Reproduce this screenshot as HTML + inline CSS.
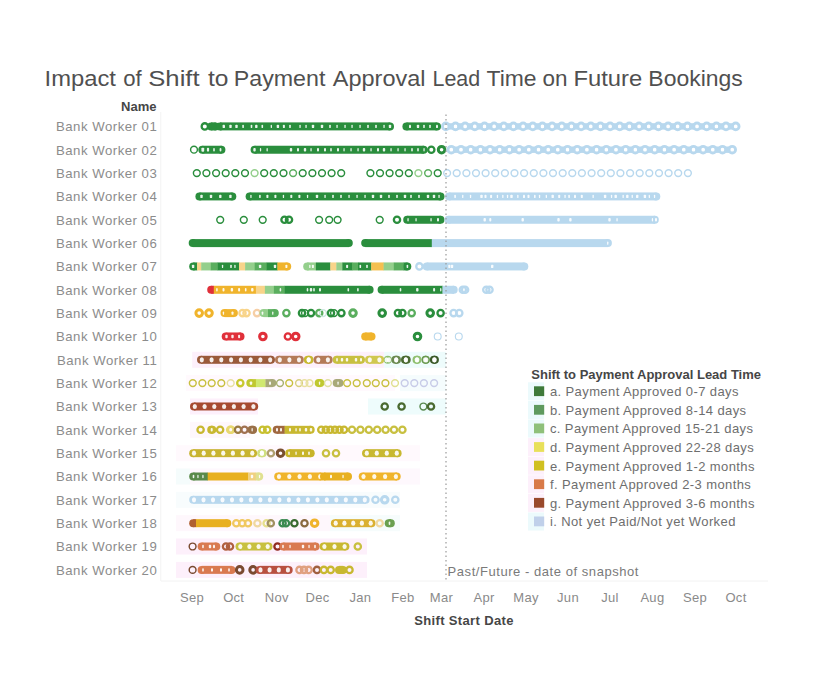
<!DOCTYPE html>
<html><head><meta charset="utf-8"><style>
html,body{margin:0;padding:0;background:#fff;}
svg{display:block;font-family:"Liberation Sans",sans-serif;}
.t{font-size:22.2px;fill:#505050;}
.nm text{font-size:13.2px;fill:#8c8c8c;letter-spacing:0.5px;}
.mo text{font-size:13px;fill:#8a8a8a;letter-spacing:0.3px;}
.lg{font-size:13px;fill:#6e6e6e;letter-spacing:0.4px;}
.hd{font-size:13px;font-weight:bold;fill:#464646;}
</style></head><body>
<svg width="832" height="685" viewBox="0 0 832 685">
<text class="t" transform="translate(44.56 86.3) scale(1.0711 1)">Impact</text><text class="t" transform="translate(123.30 86.3) scale(0.9980 1)">of</text><text class="t" transform="translate(148.24 86.3) scale(1.1565 1)">Shift</text><text class="t" transform="translate(207.90 86.3) scale(1.1066 1)">to</text><text class="t" transform="translate(233.75 86.3) scale(1.0464 1)">Payment</text><text class="t" transform="translate(332.80 86.3) scale(1.0584 1)">Approval</text><text class="t" transform="translate(432.53 86.3) scale(0.9656 1)">Lead</text><text class="t" transform="translate(486.50 86.3) scale(1.0324 1)">Time</text><text class="t" transform="translate(542.50 86.3) scale(1.0112 1)">on</text><text class="t" transform="translate(573.43 86.3) scale(1.0719 1)">Future</text><text class="t" transform="translate(648.37 86.3) scale(1.0346 1)">Bookings</text>
<text x="156.5" y="111" class="hd" text-anchor="end">Name</text>
<line x1="160.8" y1="112" x2="160.8" y2="581" stroke="#f3f3f3" stroke-width="1"/>
<line x1="161" y1="581" x2="768" y2="581" stroke="#f2f2f2" stroke-width="1"/>
<g class="nm">
<text x="157.3" y="131.3" text-anchor="end">Bank Worker 01</text>
<text x="157.3" y="154.6" text-anchor="end">Bank Worker 02</text>
<text x="157.3" y="178.0" text-anchor="end">Bank Worker 03</text>
<text x="157.3" y="201.3" text-anchor="end">Bank Worker 04</text>
<text x="157.3" y="224.7" text-anchor="end">Bank Worker 05</text>
<text x="157.3" y="248.0" text-anchor="end">Bank Worker 06</text>
<text x="157.3" y="271.3" text-anchor="end">Bank Worker 07</text>
<text x="157.3" y="294.7" text-anchor="end">Bank Worker 08</text>
<text x="157.3" y="318.0" text-anchor="end">Bank Worker 09</text>
<text x="157.3" y="341.4" text-anchor="end">Bank Worker 10</text>
<text x="157.3" y="364.7" text-anchor="end">Bank Worker 11</text>
<text x="157.3" y="388.0" text-anchor="end">Bank Worker 12</text>
<text x="157.3" y="411.4" text-anchor="end">Bank Worker 13</text>
<text x="157.3" y="434.7" text-anchor="end">Bank Worker 14</text>
<text x="157.3" y="458.1" text-anchor="end">Bank Worker 15</text>
<text x="157.3" y="481.4" text-anchor="end">Bank Worker 16</text>
<text x="157.3" y="504.7" text-anchor="end">Bank Worker 17</text>
<text x="157.3" y="528.1" text-anchor="end">Bank Worker 18</text>
<text x="157.3" y="551.4" text-anchor="end">Bank Worker 19</text>
<text x="157.3" y="574.8" text-anchor="end">Bank Worker 20</text>
</g>
<g fill="none">
<rect x="192.2" y="351.8" width="192.0" height="16.0" fill="#fdf0fb"/>
<rect x="384.2" y="351.8" width="61.8" height="16.0" fill="#eefcfc"/>
<rect x="186.0" y="375.1" width="209.0" height="16.0" fill="#fff9fd"/>
<rect x="400.0" y="375.1" width="46.0" height="16.0" fill="#f5fcfd"/>
<rect x="190.0" y="421.8" width="60.0" height="16.0" fill="#fef7fc"/>
<rect x="176.0" y="445.2" width="244.0" height="16.0" fill="#fff9fd"/>
<rect x="176.0" y="468.5" width="14.0" height="16.0" fill="#f5fcfc"/>
<rect x="190.0" y="468.5" width="230.0" height="16.0" fill="#fef8fd"/>
<rect x="176.0" y="491.8" width="224.0" height="16.0" fill="#f8fcfd"/>
<rect x="176.0" y="515.2" width="154.0" height="16.0" fill="#fef7fc"/>
<rect x="330.0" y="515.2" width="70.0" height="16.0" fill="#f6fcfc"/>
<rect x="190.0" y="398.5" width="68.0" height="16.0" fill="#fdf0fb"/>
<rect x="368.0" y="398.5" width="78.0" height="16.0" fill="#eefcfc"/>
<rect x="176.0" y="538.5" width="191.0" height="16.0" fill="#fdf0fb"/>
<rect x="176.0" y="561.9" width="191.0" height="16.0" fill="#fdf0fb"/>
<circle cx="204.8" cy="126.4" r="3.15" stroke="#2a8e3d" stroke-width="2.30" fill="none"/>
<circle cx="211.0" cy="126.4" r="4.00" fill="#2a8e3d"/>
<circle cx="215.5" cy="126.4" r="4.00" fill="#2a8e3d"/>
<rect x="211.00" y="122.40" width="4.80" height="8.00" fill="#2a8e3d"/>
<circle cx="220.0" cy="126.4" r="4.00" fill="#2a8e3d"/>
<circle cx="390.0" cy="126.4" r="4.00" fill="#2a8e3d"/>
<rect x="220.00" y="122.40" width="170.30" height="8.00" fill="#2a8e3d"/>
<rect x="222.6" y="124.7" width="2.4" height="3.4" rx="0.9" fill="#fff" fill-opacity="0.9"/>
<rect x="229.3" y="124.7" width="2.4" height="3.4" rx="0.9" fill="#fff" fill-opacity="0.9"/>
<rect x="235.3" y="124.7" width="2.4" height="3.4" rx="0.9" fill="#fff" fill-opacity="0.9"/>
<rect x="242.3" y="124.7" width="1.6" height="3.4" rx="0.9" fill="#fff" fill-opacity="0.9"/>
<rect x="250.7" y="124.7" width="1.6" height="3.4" rx="0.9" fill="#fff" fill-opacity="0.9"/>
<rect x="255.1" y="124.7" width="2.4" height="3.4" rx="0.9" fill="#fff" fill-opacity="0.9"/>
<rect x="261.5" y="124.7" width="1.6" height="3.4" rx="0.9" fill="#fff" fill-opacity="0.9"/>
<rect x="270.7" y="124.7" width="1.3" height="3.4" rx="0.9" fill="#fff" fill-opacity="0.9"/>
<rect x="276.7" y="124.7" width="2.4" height="3.4" rx="0.9" fill="#fff" fill-opacity="0.9"/>
<rect x="282.9" y="124.7" width="2.0" height="3.4" rx="0.9" fill="#fff" fill-opacity="0.9"/>
<rect x="289.2" y="124.7" width="1.6" height="3.4" rx="0.9" fill="#fff" fill-opacity="0.9"/>
<rect x="299.4" y="124.7" width="1.3" height="3.4" rx="0.9" fill="#fff" fill-opacity="0.9"/>
<rect x="305.4" y="124.7" width="1.3" height="3.4" rx="0.9" fill="#fff" fill-opacity="0.9"/>
<rect x="311.8" y="124.7" width="2.4" height="3.4" rx="0.9" fill="#fff" fill-opacity="0.9"/>
<rect x="320.8" y="124.7" width="2.4" height="3.4" rx="0.9" fill="#fff" fill-opacity="0.9"/>
<rect x="329.2" y="124.7" width="1.6" height="3.4" rx="0.9" fill="#fff" fill-opacity="0.9"/>
<rect x="336.4" y="124.7" width="1.3" height="3.4" rx="0.9" fill="#fff" fill-opacity="0.9"/>
<rect x="344.4" y="124.7" width="1.3" height="3.4" rx="0.9" fill="#fff" fill-opacity="0.9"/>
<rect x="351.4" y="124.7" width="1.3" height="3.4" rx="0.9" fill="#fff" fill-opacity="0.9"/>
<rect x="359.4" y="124.7" width="1.3" height="3.4" rx="0.9" fill="#fff" fill-opacity="0.9"/>
<rect x="367.2" y="124.7" width="1.6" height="3.4" rx="0.9" fill="#fff" fill-opacity="0.9"/>
<rect x="375.2" y="124.7" width="1.6" height="3.4" rx="0.9" fill="#fff" fill-opacity="0.9"/>
<rect x="383.4" y="124.7" width="1.3" height="3.4" rx="0.9" fill="#fff" fill-opacity="0.9"/>
<rect x="388.8" y="124.7" width="2.4" height="3.4" rx="0.9" fill="#fff" fill-opacity="0.9"/>
<circle cx="406.4" cy="126.4" r="4.00" fill="#2a8e3d"/>
<circle cx="437.0" cy="126.4" r="4.00" fill="#2a8e3d"/>
<rect x="406.40" y="122.40" width="30.90" height="8.00" fill="#2a8e3d"/>
<rect x="409.0" y="124.7" width="2.0" height="3.4" rx="0.9" fill="#fff" fill-opacity="0.9"/>
<rect x="416.8" y="124.7" width="2.4" height="3.4" rx="0.9" fill="#fff" fill-opacity="0.9"/>
<rect x="423.2" y="124.7" width="1.6" height="3.4" rx="0.9" fill="#fff" fill-opacity="0.9"/>
<rect x="429.2" y="124.7" width="1.6" height="3.4" rx="0.9" fill="#fff" fill-opacity="0.9"/>
<rect x="436.0" y="124.7" width="2.0" height="3.4" rx="0.9" fill="#fff" fill-opacity="0.9"/>
<rect x="447.8" y="123.2" width="5.7" height="6.4" fill="#b8d8ee"/>
<rect x="457.5" y="123.2" width="5.7" height="6.4" fill="#b8d8ee"/>
<rect x="467.1" y="123.2" width="5.7" height="6.4" fill="#b8d8ee"/>
<rect x="476.8" y="123.2" width="5.7" height="6.4" fill="#b8d8ee"/>
<rect x="486.5" y="123.2" width="5.7" height="6.4" fill="#b8d8ee"/>
<rect x="496.1" y="123.2" width="5.7" height="6.4" fill="#b8d8ee"/>
<rect x="505.8" y="123.2" width="5.7" height="6.4" fill="#b8d8ee"/>
<rect x="515.4" y="123.2" width="5.7" height="6.4" fill="#b8d8ee"/>
<rect x="525.1" y="123.2" width="5.7" height="6.4" fill="#b8d8ee"/>
<rect x="534.8" y="123.2" width="5.7" height="6.4" fill="#b8d8ee"/>
<rect x="544.4" y="123.2" width="5.7" height="6.4" fill="#b8d8ee"/>
<rect x="554.1" y="123.2" width="5.7" height="6.4" fill="#b8d8ee"/>
<rect x="563.8" y="123.2" width="5.7" height="6.4" fill="#b8d8ee"/>
<rect x="573.4" y="123.2" width="5.7" height="6.4" fill="#b8d8ee"/>
<rect x="583.1" y="123.2" width="5.7" height="6.4" fill="#b8d8ee"/>
<rect x="592.8" y="123.2" width="5.7" height="6.4" fill="#b8d8ee"/>
<rect x="602.4" y="123.2" width="5.7" height="6.4" fill="#b8d8ee"/>
<rect x="612.1" y="123.2" width="5.7" height="6.4" fill="#b8d8ee"/>
<rect x="621.7" y="123.2" width="5.7" height="6.4" fill="#b8d8ee"/>
<rect x="631.4" y="123.2" width="5.7" height="6.4" fill="#b8d8ee"/>
<rect x="641.1" y="123.2" width="5.7" height="6.4" fill="#b8d8ee"/>
<rect x="650.7" y="123.2" width="5.7" height="6.4" fill="#b8d8ee"/>
<rect x="660.4" y="123.2" width="5.7" height="6.4" fill="#b8d8ee"/>
<rect x="670.1" y="123.2" width="5.7" height="6.4" fill="#b8d8ee"/>
<rect x="679.7" y="123.2" width="5.7" height="6.4" fill="#b8d8ee"/>
<rect x="689.4" y="123.2" width="5.7" height="6.4" fill="#b8d8ee"/>
<rect x="699.0" y="123.2" width="5.7" height="6.4" fill="#b8d8ee"/>
<rect x="708.7" y="123.2" width="5.7" height="6.4" fill="#b8d8ee"/>
<rect x="718.4" y="123.2" width="5.7" height="6.4" fill="#b8d8ee"/>
<rect x="728.0" y="123.2" width="5.7" height="6.4" fill="#b8d8ee"/>
<circle cx="445.8" cy="126.4" r="3.35" stroke="#b8d8ee" stroke-width="2.9" fill="none"/>
<circle cx="455.5" cy="126.4" r="3.35" stroke="#b8d8ee" stroke-width="2.9" fill="none"/>
<circle cx="465.1" cy="126.4" r="3.35" stroke="#b8d8ee" stroke-width="2.9" fill="none"/>
<circle cx="474.8" cy="126.4" r="3.35" stroke="#b8d8ee" stroke-width="2.9" fill="none"/>
<circle cx="484.5" cy="126.4" r="3.35" stroke="#b8d8ee" stroke-width="2.9" fill="none"/>
<circle cx="494.1" cy="126.4" r="3.35" stroke="#b8d8ee" stroke-width="2.9" fill="none"/>
<circle cx="503.8" cy="126.4" r="3.35" stroke="#b8d8ee" stroke-width="2.9" fill="none"/>
<circle cx="513.4" cy="126.4" r="3.35" stroke="#b8d8ee" stroke-width="2.9" fill="none"/>
<circle cx="523.1" cy="126.4" r="3.35" stroke="#b8d8ee" stroke-width="2.9" fill="none"/>
<circle cx="532.8" cy="126.4" r="3.35" stroke="#b8d8ee" stroke-width="2.9" fill="none"/>
<circle cx="542.4" cy="126.4" r="3.35" stroke="#b8d8ee" stroke-width="2.9" fill="none"/>
<circle cx="552.1" cy="126.4" r="3.35" stroke="#b8d8ee" stroke-width="2.9" fill="none"/>
<circle cx="561.8" cy="126.4" r="3.35" stroke="#b8d8ee" stroke-width="2.9" fill="none"/>
<circle cx="571.4" cy="126.4" r="3.35" stroke="#b8d8ee" stroke-width="2.9" fill="none"/>
<circle cx="581.1" cy="126.4" r="3.35" stroke="#b8d8ee" stroke-width="2.9" fill="none"/>
<circle cx="590.8" cy="126.4" r="3.35" stroke="#b8d8ee" stroke-width="2.9" fill="none"/>
<circle cx="600.4" cy="126.4" r="3.35" stroke="#b8d8ee" stroke-width="2.9" fill="none"/>
<circle cx="610.1" cy="126.4" r="3.35" stroke="#b8d8ee" stroke-width="2.9" fill="none"/>
<circle cx="619.7" cy="126.4" r="3.35" stroke="#b8d8ee" stroke-width="2.9" fill="none"/>
<circle cx="629.4" cy="126.4" r="3.35" stroke="#b8d8ee" stroke-width="2.9" fill="none"/>
<circle cx="639.1" cy="126.4" r="3.35" stroke="#b8d8ee" stroke-width="2.9" fill="none"/>
<circle cx="648.7" cy="126.4" r="3.35" stroke="#b8d8ee" stroke-width="2.9" fill="none"/>
<circle cx="658.4" cy="126.4" r="3.35" stroke="#b8d8ee" stroke-width="2.9" fill="none"/>
<circle cx="668.1" cy="126.4" r="3.35" stroke="#b8d8ee" stroke-width="2.9" fill="none"/>
<circle cx="677.7" cy="126.4" r="3.35" stroke="#b8d8ee" stroke-width="2.9" fill="none"/>
<circle cx="687.4" cy="126.4" r="3.35" stroke="#b8d8ee" stroke-width="2.9" fill="none"/>
<circle cx="697.0" cy="126.4" r="3.35" stroke="#b8d8ee" stroke-width="2.9" fill="none"/>
<circle cx="706.7" cy="126.4" r="3.35" stroke="#b8d8ee" stroke-width="2.9" fill="none"/>
<circle cx="716.4" cy="126.4" r="3.35" stroke="#b8d8ee" stroke-width="2.9" fill="none"/>
<circle cx="726.0" cy="126.4" r="3.35" stroke="#b8d8ee" stroke-width="2.9" fill="none"/>
<circle cx="735.7" cy="126.4" r="3.35" stroke="#b8d8ee" stroke-width="2.9" fill="none"/>
<circle cx="194.0" cy="149.7" r="3.40" stroke="#2a8e3d" stroke-width="1.45" fill="none"/>
<circle cx="202.3" cy="149.7" r="4.00" fill="#2a8e3d"/>
<circle cx="221.4" cy="149.7" r="4.00" fill="#2a8e3d"/>
<rect x="202.30" y="145.74" width="19.40" height="8.00" fill="#2a8e3d"/>
<rect x="201.4" y="147.7" width="2.8" height="4.0" rx="0.9" fill="#fff" fill-opacity="0.9"/>
<rect x="206.9" y="147.8" width="2.2" height="3.8" rx="0.9" fill="#fff" fill-opacity="0.9"/>
<rect x="213.2" y="148.0" width="1.6" height="3.4" rx="0.9" fill="#fff" fill-opacity="0.9"/>
<rect x="219.6" y="148.0" width="1.8" height="3.4" rx="0.9" fill="#fff" fill-opacity="0.9"/>
<circle cx="254.6" cy="149.7" r="4.00" fill="#2a8e3d"/>
<circle cx="423.6" cy="149.7" r="4.00" fill="#2a8e3d"/>
<rect x="254.60" y="145.74" width="169.30" height="8.00" fill="#2a8e3d"/>
<rect x="253.3" y="148.0" width="2.4" height="3.4" rx="0.9" fill="#fff" fill-opacity="0.9"/>
<rect x="259.9" y="148.0" width="1.3" height="3.4" rx="0.9" fill="#fff" fill-opacity="0.9"/>
<rect x="266.5" y="148.0" width="1.3" height="3.4" rx="0.9" fill="#fff" fill-opacity="0.9"/>
<rect x="289.8" y="148.0" width="2.4" height="3.4" rx="0.9" fill="#fff" fill-opacity="0.9"/>
<rect x="297.0" y="148.0" width="2.0" height="3.4" rx="0.9" fill="#fff" fill-opacity="0.9"/>
<rect x="303.8" y="148.0" width="2.4" height="3.4" rx="0.9" fill="#fff" fill-opacity="0.9"/>
<rect x="310.4" y="148.0" width="1.3" height="3.4" rx="0.9" fill="#fff" fill-opacity="0.9"/>
<rect x="317.0" y="148.0" width="2.0" height="3.4" rx="0.9" fill="#fff" fill-opacity="0.9"/>
<rect x="324.0" y="148.0" width="2.0" height="3.4" rx="0.9" fill="#fff" fill-opacity="0.9"/>
<rect x="330.2" y="148.0" width="1.6" height="3.4" rx="0.9" fill="#fff" fill-opacity="0.9"/>
<rect x="337.0" y="148.0" width="2.0" height="3.4" rx="0.9" fill="#fff" fill-opacity="0.9"/>
<rect x="343.4" y="148.0" width="1.3" height="3.4" rx="0.9" fill="#fff" fill-opacity="0.9"/>
<rect x="350.4" y="148.0" width="1.3" height="3.4" rx="0.9" fill="#fff" fill-opacity="0.9"/>
<rect x="357.4" y="148.0" width="1.3" height="3.4" rx="0.9" fill="#fff" fill-opacity="0.9"/>
<rect x="362.8" y="148.0" width="2.4" height="3.4" rx="0.9" fill="#fff" fill-opacity="0.9"/>
<rect x="370.4" y="148.0" width="1.3" height="3.4" rx="0.9" fill="#fff" fill-opacity="0.9"/>
<rect x="377.0" y="148.0" width="2.0" height="3.4" rx="0.9" fill="#fff" fill-opacity="0.9"/>
<rect x="382.8" y="148.0" width="2.4" height="3.4" rx="0.9" fill="#fff" fill-opacity="0.9"/>
<rect x="390.4" y="148.0" width="1.3" height="3.4" rx="0.9" fill="#fff" fill-opacity="0.9"/>
<rect x="397.4" y="148.0" width="1.3" height="3.4" rx="0.9" fill="#fff" fill-opacity="0.9"/>
<rect x="404.4" y="148.0" width="1.3" height="3.4" rx="0.9" fill="#fff" fill-opacity="0.9"/>
<rect x="411.2" y="148.0" width="1.6" height="3.4" rx="0.9" fill="#fff" fill-opacity="0.9"/>
<rect x="417.2" y="148.0" width="1.6" height="3.4" rx="0.9" fill="#fff" fill-opacity="0.9"/>
<rect x="423.4" y="148.0" width="1.3" height="3.4" rx="0.9" fill="#fff" fill-opacity="0.9"/>
<circle cx="431.3" cy="149.7" r="3.15" stroke="#2a8e3d" stroke-width="2.30" fill="none"/>
<circle cx="441.6" cy="149.7" r="3.30" stroke="#2a8e3d" stroke-width="3.00" fill="none"/>
<rect x="453.3" y="146.5" width="5.7" height="6.4" fill="#b8d8ee"/>
<rect x="463.0" y="146.5" width="5.7" height="6.4" fill="#b8d8ee"/>
<rect x="472.7" y="146.5" width="5.7" height="6.4" fill="#b8d8ee"/>
<rect x="482.4" y="146.5" width="5.7" height="6.4" fill="#b8d8ee"/>
<rect x="492.0" y="146.5" width="5.7" height="6.4" fill="#b8d8ee"/>
<rect x="501.7" y="146.5" width="5.7" height="6.4" fill="#b8d8ee"/>
<rect x="511.4" y="146.5" width="5.7" height="6.4" fill="#b8d8ee"/>
<rect x="521.1" y="146.5" width="5.7" height="6.4" fill="#b8d8ee"/>
<rect x="530.8" y="146.5" width="5.7" height="6.4" fill="#b8d8ee"/>
<rect x="540.5" y="146.5" width="5.7" height="6.4" fill="#b8d8ee"/>
<rect x="550.2" y="146.5" width="5.7" height="6.4" fill="#b8d8ee"/>
<rect x="559.8" y="146.5" width="5.7" height="6.4" fill="#b8d8ee"/>
<rect x="569.5" y="146.5" width="5.7" height="6.4" fill="#b8d8ee"/>
<rect x="579.2" y="146.5" width="5.7" height="6.4" fill="#b8d8ee"/>
<rect x="588.9" y="146.5" width="5.7" height="6.4" fill="#b8d8ee"/>
<rect x="598.6" y="146.5" width="5.7" height="6.4" fill="#b8d8ee"/>
<rect x="608.3" y="146.5" width="5.7" height="6.4" fill="#b8d8ee"/>
<rect x="618.0" y="146.5" width="5.7" height="6.4" fill="#b8d8ee"/>
<rect x="627.7" y="146.5" width="5.7" height="6.4" fill="#b8d8ee"/>
<rect x="637.3" y="146.5" width="5.7" height="6.4" fill="#b8d8ee"/>
<rect x="647.0" y="146.5" width="5.7" height="6.4" fill="#b8d8ee"/>
<rect x="656.7" y="146.5" width="5.7" height="6.4" fill="#b8d8ee"/>
<rect x="666.4" y="146.5" width="5.7" height="6.4" fill="#b8d8ee"/>
<rect x="676.1" y="146.5" width="5.7" height="6.4" fill="#b8d8ee"/>
<rect x="685.8" y="146.5" width="5.7" height="6.4" fill="#b8d8ee"/>
<rect x="695.5" y="146.5" width="5.7" height="6.4" fill="#b8d8ee"/>
<rect x="705.1" y="146.5" width="5.7" height="6.4" fill="#b8d8ee"/>
<rect x="714.8" y="146.5" width="5.7" height="6.4" fill="#b8d8ee"/>
<rect x="724.5" y="146.5" width="5.7" height="6.4" fill="#b8d8ee"/>
<circle cx="451.3" cy="149.7" r="3.35" stroke="#b8d8ee" stroke-width="2.9" fill="none"/>
<circle cx="461.0" cy="149.7" r="3.35" stroke="#b8d8ee" stroke-width="2.9" fill="none"/>
<circle cx="470.7" cy="149.7" r="3.35" stroke="#b8d8ee" stroke-width="2.9" fill="none"/>
<circle cx="480.4" cy="149.7" r="3.35" stroke="#b8d8ee" stroke-width="2.9" fill="none"/>
<circle cx="490.0" cy="149.7" r="3.35" stroke="#b8d8ee" stroke-width="2.9" fill="none"/>
<circle cx="499.7" cy="149.7" r="3.35" stroke="#b8d8ee" stroke-width="2.9" fill="none"/>
<circle cx="509.4" cy="149.7" r="3.35" stroke="#b8d8ee" stroke-width="2.9" fill="none"/>
<circle cx="519.1" cy="149.7" r="3.35" stroke="#b8d8ee" stroke-width="2.9" fill="none"/>
<circle cx="528.8" cy="149.7" r="3.35" stroke="#b8d8ee" stroke-width="2.9" fill="none"/>
<circle cx="538.5" cy="149.7" r="3.35" stroke="#b8d8ee" stroke-width="2.9" fill="none"/>
<circle cx="548.2" cy="149.7" r="3.35" stroke="#b8d8ee" stroke-width="2.9" fill="none"/>
<circle cx="557.8" cy="149.7" r="3.35" stroke="#b8d8ee" stroke-width="2.9" fill="none"/>
<circle cx="567.5" cy="149.7" r="3.35" stroke="#b8d8ee" stroke-width="2.9" fill="none"/>
<circle cx="577.2" cy="149.7" r="3.35" stroke="#b8d8ee" stroke-width="2.9" fill="none"/>
<circle cx="586.9" cy="149.7" r="3.35" stroke="#b8d8ee" stroke-width="2.9" fill="none"/>
<circle cx="596.6" cy="149.7" r="3.35" stroke="#b8d8ee" stroke-width="2.9" fill="none"/>
<circle cx="606.3" cy="149.7" r="3.35" stroke="#b8d8ee" stroke-width="2.9" fill="none"/>
<circle cx="616.0" cy="149.7" r="3.35" stroke="#b8d8ee" stroke-width="2.9" fill="none"/>
<circle cx="625.7" cy="149.7" r="3.35" stroke="#b8d8ee" stroke-width="2.9" fill="none"/>
<circle cx="635.3" cy="149.7" r="3.35" stroke="#b8d8ee" stroke-width="2.9" fill="none"/>
<circle cx="645.0" cy="149.7" r="3.35" stroke="#b8d8ee" stroke-width="2.9" fill="none"/>
<circle cx="654.7" cy="149.7" r="3.35" stroke="#b8d8ee" stroke-width="2.9" fill="none"/>
<circle cx="664.4" cy="149.7" r="3.35" stroke="#b8d8ee" stroke-width="2.9" fill="none"/>
<circle cx="674.1" cy="149.7" r="3.35" stroke="#b8d8ee" stroke-width="2.9" fill="none"/>
<circle cx="683.8" cy="149.7" r="3.35" stroke="#b8d8ee" stroke-width="2.9" fill="none"/>
<circle cx="693.5" cy="149.7" r="3.35" stroke="#b8d8ee" stroke-width="2.9" fill="none"/>
<circle cx="703.1" cy="149.7" r="3.35" stroke="#b8d8ee" stroke-width="2.9" fill="none"/>
<circle cx="712.8" cy="149.7" r="3.35" stroke="#b8d8ee" stroke-width="2.9" fill="none"/>
<circle cx="722.5" cy="149.7" r="3.35" stroke="#b8d8ee" stroke-width="2.9" fill="none"/>
<circle cx="732.2" cy="149.7" r="3.35" stroke="#b8d8ee" stroke-width="2.9" fill="none"/>
<circle cx="196.8" cy="173.1" r="3.40" stroke="#2a8e3d" stroke-width="1.45" fill="none"/>
<circle cx="206.4" cy="173.1" r="3.40" stroke="#2a8e3d" stroke-width="1.45" fill="none"/>
<circle cx="216.1" cy="173.1" r="3.40" stroke="#2a8e3d" stroke-width="1.45" fill="none"/>
<circle cx="225.7" cy="173.1" r="3.40" stroke="#2a8e3d" stroke-width="1.45" fill="none"/>
<circle cx="235.3" cy="173.1" r="3.40" stroke="#2a8e3d" stroke-width="1.45" fill="none"/>
<circle cx="245.0" cy="173.1" r="3.40" stroke="#2a8e3d" stroke-width="1.45" fill="none"/>
<circle cx="254.6" cy="173.1" r="3.40" stroke="#94cf8c" stroke-width="1.45" fill="none"/>
<circle cx="264.2" cy="173.1" r="3.40" stroke="#2a8e3d" stroke-width="1.45" fill="none"/>
<circle cx="273.8" cy="173.1" r="3.40" stroke="#2a8e3d" stroke-width="1.45" fill="none"/>
<circle cx="283.5" cy="173.1" r="3.40" stroke="#2a8e3d" stroke-width="1.45" fill="none"/>
<circle cx="293.1" cy="173.1" r="3.40" stroke="#5aae5e" stroke-width="1.45" fill="none"/>
<circle cx="302.7" cy="173.1" r="3.40" stroke="#2a8e3d" stroke-width="1.45" fill="none"/>
<circle cx="312.4" cy="173.1" r="3.40" stroke="#2a8e3d" stroke-width="1.45" fill="none"/>
<circle cx="322.0" cy="173.1" r="3.40" stroke="#2a8e3d" stroke-width="1.45" fill="none"/>
<circle cx="331.6" cy="173.1" r="3.40" stroke="#2a8e3d" stroke-width="1.45" fill="none"/>
<circle cx="341.2" cy="173.1" r="3.40" stroke="#2a8e3d" stroke-width="1.45" fill="none"/>
<circle cx="370.4" cy="173.1" r="3.40" stroke="#2a8e3d" stroke-width="1.45" fill="none"/>
<circle cx="380.0" cy="173.1" r="3.40" stroke="#2a8e3d" stroke-width="1.45" fill="none"/>
<circle cx="389.6" cy="173.1" r="3.40" stroke="#2a8e3d" stroke-width="1.45" fill="none"/>
<circle cx="399.2" cy="173.1" r="3.40" stroke="#2a8e3d" stroke-width="1.45" fill="none"/>
<circle cx="408.8" cy="173.1" r="3.40" stroke="#2a8e3d" stroke-width="1.45" fill="none"/>
<circle cx="418.4" cy="173.1" r="3.40" stroke="#94cf8c" stroke-width="1.45" fill="none"/>
<circle cx="428.1" cy="173.1" r="3.40" stroke="#5aae5e" stroke-width="1.45" fill="none"/>
<circle cx="437.7" cy="173.1" r="3.40" stroke="#2a8e3d" stroke-width="1.45" fill="none"/>
<circle cx="447.1" cy="173.1" r="3.40" stroke="#b8d8ee" stroke-width="1.45" fill="none"/>
<circle cx="456.7" cy="173.1" r="3.40" stroke="#b8d8ee" stroke-width="1.45" fill="none"/>
<circle cx="466.4" cy="173.1" r="3.40" stroke="#b8d8ee" stroke-width="1.45" fill="none"/>
<circle cx="476.0" cy="173.1" r="3.40" stroke="#b8d8ee" stroke-width="1.45" fill="none"/>
<circle cx="485.6" cy="173.1" r="3.40" stroke="#b8d8ee" stroke-width="1.45" fill="none"/>
<circle cx="495.2" cy="173.1" r="3.40" stroke="#b8d8ee" stroke-width="1.45" fill="none"/>
<circle cx="504.9" cy="173.1" r="3.40" stroke="#b8d8ee" stroke-width="1.45" fill="none"/>
<circle cx="514.5" cy="173.1" r="3.40" stroke="#b8d8ee" stroke-width="1.45" fill="none"/>
<circle cx="524.1" cy="173.1" r="3.40" stroke="#b8d8ee" stroke-width="1.45" fill="none"/>
<circle cx="533.8" cy="173.1" r="3.40" stroke="#b8d8ee" stroke-width="1.45" fill="none"/>
<circle cx="543.4" cy="173.1" r="3.40" stroke="#b8d8ee" stroke-width="1.45" fill="none"/>
<circle cx="553.0" cy="173.1" r="3.40" stroke="#b8d8ee" stroke-width="1.45" fill="none"/>
<circle cx="562.7" cy="173.1" r="3.40" stroke="#b8d8ee" stroke-width="1.45" fill="none"/>
<circle cx="572.3" cy="173.1" r="3.40" stroke="#b8d8ee" stroke-width="1.45" fill="none"/>
<circle cx="581.9" cy="173.1" r="3.40" stroke="#b8d8ee" stroke-width="1.45" fill="none"/>
<circle cx="591.6" cy="173.1" r="3.40" stroke="#b8d8ee" stroke-width="1.45" fill="none"/>
<circle cx="601.2" cy="173.1" r="3.40" stroke="#b8d8ee" stroke-width="1.45" fill="none"/>
<circle cx="610.8" cy="173.1" r="3.40" stroke="#b8d8ee" stroke-width="1.45" fill="none"/>
<circle cx="620.4" cy="173.1" r="3.40" stroke="#b8d8ee" stroke-width="1.45" fill="none"/>
<circle cx="630.1" cy="173.1" r="3.40" stroke="#b8d8ee" stroke-width="1.45" fill="none"/>
<circle cx="639.7" cy="173.1" r="3.40" stroke="#b8d8ee" stroke-width="1.45" fill="none"/>
<circle cx="649.3" cy="173.1" r="3.40" stroke="#b8d8ee" stroke-width="1.45" fill="none"/>
<circle cx="659.0" cy="173.1" r="3.40" stroke="#b8d8ee" stroke-width="1.45" fill="none"/>
<circle cx="668.6" cy="173.1" r="3.40" stroke="#b8d8ee" stroke-width="1.45" fill="none"/>
<circle cx="678.2" cy="173.1" r="3.40" stroke="#b8d8ee" stroke-width="1.45" fill="none"/>
<circle cx="687.9" cy="173.1" r="3.40" stroke="#b8d8ee" stroke-width="1.45" fill="none"/>
<circle cx="199.4" cy="196.4" r="4.00" fill="#2a8e3d"/>
<circle cx="232.3" cy="196.4" r="4.00" fill="#2a8e3d"/>
<rect x="199.40" y="192.42" width="33.20" height="8.00" fill="#2a8e3d"/>
<rect x="200.3" y="194.7" width="2.4" height="3.4" rx="0.9" fill="#fff" fill-opacity="0.9"/>
<rect x="209.8" y="194.7" width="2.4" height="3.4" rx="0.9" fill="#fff" fill-opacity="0.9"/>
<rect x="219.1" y="194.7" width="2.4" height="3.4" rx="0.9" fill="#fff" fill-opacity="0.9"/>
<rect x="229.2" y="194.7" width="2.4" height="3.4" rx="0.9" fill="#fff" fill-opacity="0.9"/>
<circle cx="249.6" cy="196.4" r="4.00" fill="#2a8e3d"/>
<circle cx="440.5" cy="196.4" r="4.00" fill="#2a8e3d"/>
<rect x="249.60" y="192.42" width="191.20" height="8.00" fill="#2a8e3d"/>
<rect x="250.3" y="194.7" width="1.3" height="3.4" rx="0.9" fill="#fff" fill-opacity="0.9"/>
<rect x="259.1" y="194.7" width="1.6" height="3.4" rx="0.9" fill="#fff" fill-opacity="0.9"/>
<rect x="266.4" y="194.7" width="2.0" height="3.4" rx="0.9" fill="#fff" fill-opacity="0.9"/>
<rect x="274.4" y="194.7" width="2.0" height="3.4" rx="0.9" fill="#fff" fill-opacity="0.9"/>
<rect x="282.8" y="194.7" width="1.3" height="3.4" rx="0.9" fill="#fff" fill-opacity="0.9"/>
<rect x="290.3" y="194.7" width="2.0" height="3.4" rx="0.9" fill="#fff" fill-opacity="0.9"/>
<rect x="298.4" y="194.7" width="2.0" height="3.4" rx="0.9" fill="#fff" fill-opacity="0.9"/>
<rect x="306.9" y="194.7" width="1.3" height="3.4" rx="0.9" fill="#fff" fill-opacity="0.9"/>
<rect x="315.8" y="194.7" width="2.4" height="3.4" rx="0.9" fill="#fff" fill-opacity="0.9"/>
<rect x="324.4" y="194.7" width="1.3" height="3.4" rx="0.9" fill="#fff" fill-opacity="0.9"/>
<rect x="332.2" y="194.7" width="1.6" height="3.4" rx="0.9" fill="#fff" fill-opacity="0.9"/>
<rect x="340.2" y="194.7" width="1.6" height="3.4" rx="0.9" fill="#fff" fill-opacity="0.9"/>
<rect x="348.4" y="194.7" width="1.3" height="3.4" rx="0.9" fill="#fff" fill-opacity="0.9"/>
<rect x="356.4" y="194.7" width="1.3" height="3.4" rx="0.9" fill="#fff" fill-opacity="0.9"/>
<rect x="364.4" y="194.7" width="1.3" height="3.4" rx="0.9" fill="#fff" fill-opacity="0.9"/>
<rect x="371.8" y="194.7" width="2.4" height="3.4" rx="0.9" fill="#fff" fill-opacity="0.9"/>
<rect x="379.8" y="194.7" width="2.4" height="3.4" rx="0.9" fill="#fff" fill-opacity="0.9"/>
<rect x="388.2" y="194.7" width="1.6" height="3.4" rx="0.9" fill="#fff" fill-opacity="0.9"/>
<rect x="396.2" y="194.7" width="1.6" height="3.4" rx="0.9" fill="#fff" fill-opacity="0.9"/>
<rect x="403.8" y="194.7" width="2.4" height="3.4" rx="0.9" fill="#fff" fill-opacity="0.9"/>
<rect x="410.2" y="194.7" width="1.6" height="3.4" rx="0.9" fill="#fff" fill-opacity="0.9"/>
<rect x="418.2" y="194.7" width="1.6" height="3.4" rx="0.9" fill="#fff" fill-opacity="0.9"/>
<rect x="426.8" y="194.7" width="2.4" height="3.4" rx="0.9" fill="#fff" fill-opacity="0.9"/>
<rect x="432.8" y="194.7" width="2.4" height="3.4" rx="0.9" fill="#fff" fill-opacity="0.9"/>
<rect x="438.4" y="194.7" width="1.3" height="3.4" rx="0.9" fill="#fff" fill-opacity="0.9"/>
<circle cx="449.0" cy="196.4" r="4.00" fill="#b8d8ee"/>
<circle cx="656.3" cy="196.4" r="4.00" fill="#b8d8ee"/>
<rect x="449.00" y="192.42" width="207.60" height="8.00" fill="#b8d8ee"/>
<rect x="454.3" y="194.7" width="1.6" height="3.4" rx="0.9" fill="#fff" fill-opacity="0.9"/>
<rect x="462.1" y="194.7" width="1.3" height="3.4" rx="0.9" fill="#fff" fill-opacity="0.9"/>
<rect x="469.9" y="194.7" width="1.3" height="3.4" rx="0.9" fill="#fff" fill-opacity="0.9"/>
<rect x="480.3" y="194.7" width="2.4" height="3.4" rx="0.9" fill="#fff" fill-opacity="0.9"/>
<rect x="484.5" y="194.7" width="2.0" height="3.4" rx="0.9" fill="#fff" fill-opacity="0.9"/>
<rect x="490.1" y="194.7" width="2.0" height="3.4" rx="0.9" fill="#fff" fill-opacity="0.9"/>
<rect x="496.8" y="194.7" width="1.3" height="3.4" rx="0.9" fill="#fff" fill-opacity="0.9"/>
<rect x="502.2" y="194.7" width="1.3" height="3.4" rx="0.9" fill="#fff" fill-opacity="0.9"/>
<rect x="506.9" y="194.7" width="1.3" height="3.4" rx="0.9" fill="#fff" fill-opacity="0.9"/>
<rect x="510.3" y="194.7" width="2.4" height="3.4" rx="0.9" fill="#fff" fill-opacity="0.9"/>
<rect x="517.2" y="194.7" width="1.3" height="3.4" rx="0.9" fill="#fff" fill-opacity="0.9"/>
<rect x="523.0" y="194.7" width="2.0" height="3.4" rx="0.9" fill="#fff" fill-opacity="0.9"/>
<rect x="527.5" y="194.7" width="2.0" height="3.4" rx="0.9" fill="#fff" fill-opacity="0.9"/>
<rect x="534.0" y="194.7" width="1.6" height="3.4" rx="0.9" fill="#fff" fill-opacity="0.9"/>
<rect x="538.9" y="194.7" width="1.3" height="3.4" rx="0.9" fill="#fff" fill-opacity="0.9"/>
<rect x="545.7" y="194.7" width="1.3" height="3.4" rx="0.9" fill="#fff" fill-opacity="0.9"/>
<rect x="551.5" y="194.7" width="2.4" height="3.4" rx="0.9" fill="#fff" fill-opacity="0.9"/>
<rect x="558.2" y="194.7" width="2.0" height="3.4" rx="0.9" fill="#fff" fill-opacity="0.9"/>
<rect x="564.4" y="194.7" width="1.3" height="3.4" rx="0.9" fill="#fff" fill-opacity="0.9"/>
<rect x="568.3" y="194.7" width="1.6" height="3.4" rx="0.9" fill="#fff" fill-opacity="0.9"/>
<rect x="574.0" y="194.7" width="2.0" height="3.4" rx="0.9" fill="#fff" fill-opacity="0.9"/>
<rect x="580.8" y="194.7" width="2.0" height="3.4" rx="0.9" fill="#fff" fill-opacity="0.9"/>
<rect x="592.5" y="194.7" width="1.3" height="3.4" rx="0.9" fill="#fff" fill-opacity="0.9"/>
<rect x="603.9" y="194.7" width="2.4" height="3.4" rx="0.9" fill="#fff" fill-opacity="0.9"/>
<rect x="610.9" y="194.7" width="1.3" height="3.4" rx="0.9" fill="#fff" fill-opacity="0.9"/>
<rect x="614.5" y="194.7" width="2.4" height="3.4" rx="0.9" fill="#fff" fill-opacity="0.9"/>
<rect x="622.5" y="194.7" width="1.3" height="3.4" rx="0.9" fill="#fff" fill-opacity="0.9"/>
<rect x="626.1" y="194.7" width="2.4" height="3.4" rx="0.9" fill="#fff" fill-opacity="0.9"/>
<rect x="631.6" y="194.7" width="1.3" height="3.4" rx="0.9" fill="#fff" fill-opacity="0.9"/>
<rect x="636.0" y="194.7" width="2.4" height="3.4" rx="0.9" fill="#fff" fill-opacity="0.9"/>
<rect x="643.7" y="194.7" width="2.4" height="3.4" rx="0.9" fill="#fff" fill-opacity="0.9"/>
<rect x="648.7" y="194.7" width="1.3" height="3.4" rx="0.9" fill="#fff" fill-opacity="0.9"/>
<rect x="653.9" y="194.7" width="1.3" height="3.4" rx="0.9" fill="#fff" fill-opacity="0.9"/>
<circle cx="220.2" cy="219.8" r="3.40" stroke="#2a8e3d" stroke-width="1.45" fill="none"/>
<circle cx="243.8" cy="219.8" r="3.40" stroke="#2a8e3d" stroke-width="1.45" fill="none"/>
<circle cx="262.7" cy="219.8" r="3.40" stroke="#2a8e3d" stroke-width="1.45" fill="none"/>
<circle cx="284.5" cy="219.8" r="3.15" stroke="#2a8e3d" stroke-width="2.30" fill="none"/>
<circle cx="289.0" cy="219.8" r="3.15" stroke="#2a8e3d" stroke-width="2.30" fill="none"/>
<circle cx="319.1" cy="219.8" r="3.40" stroke="#2a8e3d" stroke-width="1.45" fill="none"/>
<circle cx="329.2" cy="219.8" r="3.40" stroke="#2a8e3d" stroke-width="1.45" fill="none"/>
<circle cx="337.6" cy="219.8" r="3.40" stroke="#2a8e3d" stroke-width="1.45" fill="none"/>
<circle cx="379.7" cy="219.8" r="3.40" stroke="#2a8e3d" stroke-width="1.45" fill="none"/>
<circle cx="397.0" cy="219.8" r="3.15" stroke="#2a8e3d" stroke-width="2.30" fill="none"/>
<circle cx="407.2" cy="219.8" r="4.00" fill="#2a8e3d"/>
<circle cx="440.5" cy="219.8" r="4.00" fill="#2a8e3d"/>
<rect x="407.20" y="215.76" width="33.60" height="8.00" fill="#2a8e3d"/>
<rect x="407.4" y="218.1" width="1.3" height="3.4" rx="0.9" fill="#fff" fill-opacity="0.9"/>
<rect x="415.4" y="218.1" width="1.3" height="3.4" rx="0.9" fill="#fff" fill-opacity="0.9"/>
<rect x="430.4" y="218.1" width="1.3" height="3.4" rx="0.9" fill="#fff" fill-opacity="0.9"/>
<rect x="437.0" y="218.1" width="2.0" height="3.4" rx="0.9" fill="#fff" fill-opacity="0.9"/>
<circle cx="448.5" cy="219.8" r="4.00" fill="#b8d8ee"/>
<circle cx="654.8" cy="219.8" r="4.00" fill="#b8d8ee"/>
<rect x="448.50" y="215.76" width="206.60" height="8.00" fill="#b8d8ee"/>
<rect x="483.5" y="218.1" width="2.4" height="3.4" rx="0.9" fill="#fff" fill-opacity="0.9"/>
<rect x="489.3" y="218.1" width="2.0" height="3.4" rx="0.9" fill="#fff" fill-opacity="0.9"/>
<rect x="521.5" y="218.1" width="2.4" height="3.4" rx="0.9" fill="#fff" fill-opacity="0.9"/>
<rect x="557.3" y="218.1" width="2.4" height="3.4" rx="0.9" fill="#fff" fill-opacity="0.9"/>
<rect x="569.2" y="218.1" width="2.4" height="3.4" rx="0.9" fill="#fff" fill-opacity="0.9"/>
<rect x="608.3" y="218.1" width="2.4" height="3.4" rx="0.9" fill="#fff" fill-opacity="0.9"/>
<rect x="616.4" y="218.1" width="1.3" height="3.4" rx="0.9" fill="#fff" fill-opacity="0.9"/>
<rect x="651.8" y="218.1" width="1.3" height="3.4" rx="0.9" fill="#fff" fill-opacity="0.9"/>
<rect x="655.0" y="218.1" width="2.0" height="3.4" rx="0.9" fill="#fff" fill-opacity="0.9"/>
<circle cx="192.7" cy="243.1" r="4.00" fill="#2a8e3d"/>
<circle cx="348.8" cy="243.1" r="4.00" fill="#2a8e3d"/>
<rect x="192.70" y="239.10" width="156.40" height="8.00" fill="#2a8e3d"/>
<circle cx="365.2" cy="243.1" r="4.00" fill="#2a8e3d"/>
<circle cx="607.9" cy="243.1" r="4.00" fill="#b8d8ee"/>
<rect x="365.20" y="239.10" width="66.90" height="8.00" fill="#2a8e3d"/>
<rect x="431.80" y="239.10" width="176.40" height="8.00" fill="#b8d8ee"/>
<rect x="607.1" y="241.4" width="1.3" height="3.4" rx="0.9" fill="#fff" fill-opacity="0.9"/>
<circle cx="193.2" cy="266.4" r="4.00" fill="#2a8e3d"/>
<circle cx="287.2" cy="266.4" r="4.00" fill="#f0b42c"/>
<rect x="193.20" y="262.44" width="4.10" height="8.00" fill="#2a8e3d"/>
<rect x="197.00" y="262.44" width="4.50" height="8.00" fill="#f8d48a"/>
<rect x="201.20" y="262.44" width="9.90" height="8.00" fill="#94cf8c"/>
<rect x="210.80" y="262.44" width="7.00" height="8.00" fill="#5aae5e"/>
<rect x="217.50" y="262.44" width="21.80" height="8.00" fill="#2a8e3d"/>
<rect x="239.00" y="262.44" width="6.40" height="8.00" fill="#f8d48a"/>
<rect x="245.10" y="262.44" width="9.90" height="8.00" fill="#94cf8c"/>
<rect x="254.70" y="262.44" width="12.30" height="8.00" fill="#5aae5e"/>
<rect x="266.70" y="262.44" width="11.00" height="8.00" fill="#2a8e3d"/>
<rect x="277.40" y="262.44" width="10.10" height="8.00" fill="#f0b42c"/>
<rect x="191.9" y="264.7" width="2.4" height="3.4" rx="0.9" fill="#fff" fill-opacity="0.9"/>
<rect x="221.9" y="264.7" width="1.3" height="3.4" rx="0.9" fill="#fff" fill-opacity="0.9"/>
<rect x="230.2" y="264.7" width="1.6" height="3.4" rx="0.9" fill="#fff" fill-opacity="0.9"/>
<rect x="234.3" y="264.7" width="1.3" height="3.4" rx="0.9" fill="#fff" fill-opacity="0.9"/>
<rect x="258.9" y="264.7" width="2.4" height="3.4" rx="0.9" fill="#fff" fill-opacity="0.9"/>
<rect x="273.8" y="264.7" width="2.4" height="3.4" rx="0.9" fill="#fff" fill-opacity="0.9"/>
<rect x="285.4" y="264.7" width="2.0" height="3.4" rx="0.9" fill="#fff" fill-opacity="0.9"/>
<circle cx="307.2" cy="266.4" r="4.00" fill="#94cf8c"/>
<circle cx="407.3" cy="266.4" r="4.00" fill="#2a8e3d"/>
<rect x="307.20" y="262.44" width="9.00" height="8.00" fill="#94cf8c"/>
<rect x="315.90" y="262.44" width="14.70" height="8.00" fill="#2a8e3d"/>
<rect x="330.30" y="262.44" width="6.30" height="8.00" fill="#f8d48a"/>
<rect x="336.30" y="262.44" width="6.30" height="8.00" fill="#94cf8c"/>
<rect x="342.30" y="262.44" width="10.00" height="8.00" fill="#2a8e3d"/>
<rect x="352.00" y="262.44" width="6.30" height="8.00" fill="#5aae5e"/>
<rect x="358.00" y="262.44" width="13.50" height="8.00" fill="#2a8e3d"/>
<rect x="371.20" y="262.44" width="12.70" height="8.00" fill="#f5c050"/>
<rect x="383.60" y="262.44" width="10.50" height="8.00" fill="#94cf8c"/>
<rect x="393.80" y="262.44" width="10.00" height="8.00" fill="#5aae5e"/>
<rect x="403.50" y="262.44" width="4.10" height="8.00" fill="#2a8e3d"/>
<rect x="309.2" y="264.7" width="1.3" height="3.4" rx="0.9" fill="#fff" fill-opacity="0.9"/>
<rect x="311.9" y="264.7" width="2.0" height="3.4" rx="0.9" fill="#fff" fill-opacity="0.9"/>
<rect x="346.1" y="264.7" width="2.0" height="3.4" rx="0.9" fill="#fff" fill-opacity="0.9"/>
<rect x="359.5" y="264.7" width="1.6" height="3.4" rx="0.9" fill="#fff" fill-opacity="0.9"/>
<rect x="366.2" y="264.7" width="1.6" height="3.4" rx="0.9" fill="#fff" fill-opacity="0.9"/>
<rect x="406.6" y="264.7" width="1.6" height="3.4" rx="0.9" fill="#fff" fill-opacity="0.9"/>
<circle cx="419.4" cy="266.4" r="3.15" stroke="#b8d8ee" stroke-width="2.30" fill="none"/>
<circle cx="426.7" cy="266.4" r="4.00" fill="#b8d8ee"/>
<circle cx="524.3" cy="266.4" r="4.00" fill="#b8d8ee"/>
<rect x="426.70" y="262.44" width="97.90" height="8.00" fill="#b8d8ee"/>
<rect x="448.3" y="264.7" width="2.0" height="3.4" rx="0.9" fill="#fff" fill-opacity="0.9"/>
<rect x="450.8" y="264.7" width="2.4" height="3.4" rx="0.9" fill="#fff" fill-opacity="0.9"/>
<rect x="491.0" y="264.7" width="2.4" height="3.4" rx="0.9" fill="#fff" fill-opacity="0.9"/>
<circle cx="211.2" cy="289.8" r="4.00" fill="#e0303a"/>
<circle cx="369.6" cy="289.8" r="4.00" fill="#2a8e3d"/>
<rect x="211.20" y="285.78" width="2.90" height="8.00" fill="#e0303a"/>
<rect x="213.80" y="285.78" width="42.40" height="8.00" fill="#f0b42c"/>
<rect x="255.90" y="285.78" width="9.30" height="8.00" fill="#f8d48a"/>
<rect x="264.90" y="285.78" width="9.30" height="8.00" fill="#94cf8c"/>
<rect x="273.90" y="285.78" width="11.00" height="8.00" fill="#5aae5e"/>
<rect x="284.60" y="285.78" width="85.30" height="8.00" fill="#2a8e3d"/>
<rect x="216.1" y="288.1" width="1.6" height="3.4" rx="0.9" fill="#fff" fill-opacity="0.9"/>
<rect x="222.5" y="288.1" width="2.0" height="3.4" rx="0.9" fill="#fff" fill-opacity="0.9"/>
<rect x="230.7" y="288.1" width="2.4" height="3.4" rx="0.9" fill="#fff" fill-opacity="0.9"/>
<rect x="238.1" y="288.1" width="2.0" height="3.4" rx="0.9" fill="#fff" fill-opacity="0.9"/>
<rect x="244.9" y="288.1" width="1.6" height="3.4" rx="0.9" fill="#fff" fill-opacity="0.9"/>
<rect x="251.1" y="288.1" width="2.4" height="3.4" rx="0.9" fill="#fff" fill-opacity="0.9"/>
<rect x="279.6" y="288.1" width="1.6" height="3.4" rx="0.9" fill="#fff" fill-opacity="0.9"/>
<rect x="306.7" y="288.1" width="1.6" height="3.4" rx="0.9" fill="#fff" fill-opacity="0.9"/>
<rect x="309.8" y="288.1" width="2.4" height="3.4" rx="0.9" fill="#fff" fill-opacity="0.9"/>
<rect x="313.2" y="288.1" width="1.6" height="3.4" rx="0.9" fill="#fff" fill-opacity="0.9"/>
<rect x="319.0" y="288.1" width="2.0" height="3.4" rx="0.9" fill="#fff" fill-opacity="0.9"/>
<rect x="347.5" y="288.1" width="1.6" height="3.4" rx="0.9" fill="#fff" fill-opacity="0.9"/>
<rect x="357.1" y="288.1" width="1.6" height="3.4" rx="0.9" fill="#fff" fill-opacity="0.9"/>
<circle cx="381.6" cy="289.8" r="4.00" fill="#2a8e3d"/>
<circle cx="453.7" cy="289.8" r="4.00" fill="#b8d8ee"/>
<rect x="381.60" y="285.78" width="61.20" height="8.00" fill="#2a8e3d"/>
<rect x="442.50" y="285.78" width="11.50" height="8.00" fill="#b8d8ee"/>
<rect x="399.7" y="288.1" width="1.6" height="3.4" rx="0.9" fill="#fff" fill-opacity="0.9"/>
<rect x="416.1" y="288.1" width="2.4" height="3.4" rx="0.9" fill="#fff" fill-opacity="0.9"/>
<rect x="433.1" y="288.1" width="2.0" height="3.4" rx="0.9" fill="#fff" fill-opacity="0.9"/>
<rect x="440.1" y="288.1" width="1.3" height="3.4" rx="0.9" fill="#fff" fill-opacity="0.9"/>
<circle cx="462.8" cy="289.8" r="3.15" stroke="#b8d8ee" stroke-width="2.30" fill="none"/>
<circle cx="465.1" cy="289.8" r="3.15" stroke="#b8d8ee" stroke-width="2.30" fill="none"/>
<circle cx="486.3" cy="289.8" r="3.15" stroke="#b8d8ee" stroke-width="2.30" fill="none"/>
<circle cx="489.5" cy="289.8" r="3.15" stroke="#b8d8ee" stroke-width="2.30" fill="none"/>
<circle cx="199.2" cy="313.1" r="3.30" stroke="#f0b42c" stroke-width="3.00" fill="none"/>
<circle cx="209.0" cy="313.1" r="3.30" stroke="#f0b42c" stroke-width="3.00" fill="none"/>
<circle cx="224.5" cy="313.1" r="4.00" fill="#f0b42c"/>
<circle cx="233.9" cy="313.1" r="4.00" fill="#f0b42c"/>
<rect x="224.50" y="309.12" width="9.70" height="8.00" fill="#f0b42c"/>
<rect x="222.8" y="311.4" width="1.3" height="3.4" rx="0.9" fill="#fff" fill-opacity="0.9"/>
<rect x="231.5" y="311.4" width="2.0" height="3.4" rx="0.9" fill="#fff" fill-opacity="0.9"/>
<circle cx="242.5" cy="313.1" r="3.15" stroke="#f8d48a" stroke-width="2.30" fill="none"/>
<circle cx="246.5" cy="313.1" r="3.15" stroke="#f8d48a" stroke-width="2.30" fill="none"/>
<circle cx="257.0" cy="313.1" r="3.15" stroke="#f6cfa6" stroke-width="2.30" fill="none"/>
<circle cx="263.5" cy="313.1" r="4.00" fill="#94cf8c"/>
<circle cx="274.8" cy="313.1" r="4.00" fill="#5aae5e"/>
<rect x="263.50" y="309.12" width="4.80" height="8.00" fill="#94cf8c"/>
<rect x="268.00" y="309.12" width="7.10" height="8.00" fill="#5aae5e"/>
<rect x="261.7" y="311.4" width="1.6" height="3.4" rx="0.9" fill="#fff" fill-opacity="0.9"/>
<rect x="272.1" y="311.4" width="1.3" height="3.4" rx="0.9" fill="#fff" fill-opacity="0.9"/>
<circle cx="286.4" cy="313.1" r="3.15" stroke="#5aae5e" stroke-width="2.30" fill="none"/>
<circle cx="302.0" cy="313.1" r="3.15" stroke="#2a8e3d" stroke-width="2.30" fill="none"/>
<circle cx="305.0" cy="313.1" r="3.40" stroke="#2a8e3d" stroke-width="1.45" fill="none"/>
<circle cx="311.0" cy="313.1" r="3.15" stroke="#2a8e3d" stroke-width="2.30" fill="none"/>
<circle cx="319.2" cy="313.1" r="3.15" stroke="#5aae5e" stroke-width="2.30" fill="none"/>
<circle cx="323.0" cy="313.1" r="3.40" stroke="#cde8e0" stroke-width="1.45" fill="none"/>
<circle cx="331.0" cy="313.1" r="3.15" stroke="#2a8e3d" stroke-width="2.30" fill="none"/>
<circle cx="334.0" cy="313.1" r="3.40" stroke="#2a8e3d" stroke-width="1.45" fill="none"/>
<circle cx="341.4" cy="313.1" r="3.15" stroke="#2a8e3d" stroke-width="2.30" fill="none"/>
<circle cx="353.0" cy="313.1" r="3.30" stroke="#5aae5e" stroke-width="3.00" fill="none"/>
<circle cx="382.2" cy="313.1" r="3.30" stroke="#2a8e3d" stroke-width="3.00" fill="none"/>
<circle cx="397.9" cy="313.1" r="3.15" stroke="#2a8e3d" stroke-width="2.30" fill="none"/>
<circle cx="402.4" cy="313.1" r="3.15" stroke="#2a8e3d" stroke-width="2.30" fill="none"/>
<circle cx="411.7" cy="313.1" r="3.15" stroke="#5aae5e" stroke-width="2.30" fill="none"/>
<circle cx="430.2" cy="313.1" r="3.30" stroke="#2a8e3d" stroke-width="3.00" fill="none"/>
<circle cx="440.6" cy="313.1" r="3.15" stroke="#2a8e3d" stroke-width="2.30" fill="none"/>
<circle cx="453.6" cy="313.1" r="3.15" stroke="#b8d8ee" stroke-width="2.30" fill="none"/>
<circle cx="459.3" cy="313.1" r="3.15" stroke="#b8d8ee" stroke-width="2.30" fill="none"/>
<circle cx="225.7" cy="336.5" r="4.00" fill="#e0303a"/>
<circle cx="240.5" cy="336.5" r="4.00" fill="#e0303a"/>
<rect x="225.70" y="332.46" width="15.10" height="8.00" fill="#e0303a"/>
<rect x="225.3" y="334.8" width="2.4" height="3.4" rx="0.9" fill="#fff" fill-opacity="0.9"/>
<rect x="231.3" y="334.8" width="2.4" height="3.4" rx="0.9" fill="#fff" fill-opacity="0.9"/>
<rect x="238.1" y="334.8" width="2.0" height="3.4" rx="0.9" fill="#fff" fill-opacity="0.9"/>
<circle cx="262.9" cy="336.5" r="3.30" stroke="#e0303a" stroke-width="3.00" fill="none"/>
<circle cx="287.9" cy="336.5" r="3.15" stroke="#e0303a" stroke-width="2.30" fill="none"/>
<circle cx="295.7" cy="336.5" r="3.30" stroke="#e0303a" stroke-width="3.00" fill="none"/>
<circle cx="365.2" cy="336.5" r="4.00" fill="#f0b42c"/>
<circle cx="371.5" cy="336.5" r="4.00" fill="#f0b42c"/>
<rect x="365.20" y="332.46" width="6.60" height="8.00" fill="#f0b42c"/>
<circle cx="417.5" cy="336.5" r="3.30" stroke="#2a8e3d" stroke-width="3.00" fill="none"/>
<circle cx="437.7" cy="336.5" r="3.45" stroke="#b8d8ee" stroke-width="1.10" fill="none"/>
<circle cx="458.8" cy="336.5" r="3.45" stroke="#b8d8ee" stroke-width="1.10" fill="none"/>
<circle cx="201.0" cy="359.8" r="4.00" fill="#9a5a3a"/>
<circle cx="271.0" cy="359.8" r="4.00" fill="#9a5a3a"/>
<rect x="201.00" y="355.80" width="70.30" height="8.00" fill="#9a5a3a"/>
<ellipse cx="201.8" cy="359.8" rx="2.1" ry="2.6" fill="#fff" fill-opacity="0.9"/>
<ellipse cx="211.6" cy="359.8" rx="2.1" ry="2.6" fill="#fff" fill-opacity="0.9"/>
<ellipse cx="221.3" cy="359.8" rx="2.1" ry="2.6" fill="#fff" fill-opacity="0.9"/>
<ellipse cx="231.1" cy="359.8" rx="2.1" ry="2.6" fill="#fff" fill-opacity="0.9"/>
<ellipse cx="240.9" cy="359.8" rx="2.1" ry="2.6" fill="#fff" fill-opacity="0.9"/>
<ellipse cx="250.7" cy="359.8" rx="2.1" ry="2.6" fill="#fff" fill-opacity="0.9"/>
<ellipse cx="260.4" cy="359.8" rx="2.1" ry="2.6" fill="#fff" fill-opacity="0.9"/>
<ellipse cx="270.2" cy="359.8" rx="2.1" ry="2.6" fill="#fff" fill-opacity="0.9"/>
<circle cx="279.0" cy="359.8" r="4.00" fill="#b47a58"/>
<circle cx="299.8" cy="359.8" r="4.00" fill="#b47a58"/>
<rect x="279.00" y="355.80" width="21.10" height="8.00" fill="#b47a58"/>
<ellipse cx="279.8" cy="359.8" rx="2.1" ry="2.6" fill="#fff" fill-opacity="0.9"/>
<ellipse cx="289.4" cy="359.8" rx="2.1" ry="2.6" fill="#fff" fill-opacity="0.9"/>
<ellipse cx="299.0" cy="359.8" rx="2.1" ry="2.6" fill="#fff" fill-opacity="0.9"/>
<circle cx="307.8" cy="359.8" r="4.00" fill="#c8b830"/>
<circle cx="309.5" cy="359.8" r="4.00" fill="#c8b830"/>
<rect x="307.80" y="355.80" width="2.00" height="8.00" fill="#c8b830"/>
<ellipse cx="308.6" cy="359.8" rx="2.1" ry="2.6" fill="#fff" fill-opacity="0.9"/>
<ellipse cx="308.7" cy="359.8" rx="2.1" ry="2.6" fill="#fff" fill-opacity="0.9"/>
<circle cx="317.5" cy="359.8" r="4.00" fill="#b47a58"/>
<circle cx="328.7" cy="359.8" r="4.00" fill="#b47a58"/>
<rect x="317.50" y="355.80" width="11.50" height="8.00" fill="#b47a58"/>
<ellipse cx="318.3" cy="359.8" rx="2.1" ry="2.6" fill="#fff" fill-opacity="0.9"/>
<ellipse cx="327.9" cy="359.8" rx="2.1" ry="2.6" fill="#fff" fill-opacity="0.9"/>
<circle cx="336.7" cy="359.8" r="4.00" fill="#c8c040"/>
<circle cx="361.0" cy="359.8" r="4.00" fill="#c8c040"/>
<rect x="336.70" y="355.80" width="24.60" height="8.00" fill="#c8c040"/>
<rect x="336.2" y="358.1" width="1.6" height="3.4" rx="0.9" fill="#fff" fill-opacity="0.9"/>
<rect x="340.8" y="358.1" width="2.4" height="3.4" rx="0.9" fill="#fff" fill-opacity="0.9"/>
<rect x="345.8" y="358.1" width="2.4" height="3.4" rx="0.9" fill="#fff" fill-opacity="0.9"/>
<rect x="354.8" y="358.1" width="2.4" height="3.4" rx="0.9" fill="#fff" fill-opacity="0.9"/>
<rect x="360.0" y="358.1" width="2.0" height="3.4" rx="0.9" fill="#fff" fill-opacity="0.9"/>
<circle cx="369.0" cy="359.8" r="4.00" fill="#d0c850"/>
<circle cx="380.2" cy="359.8" r="4.00" fill="#d0c850"/>
<rect x="369.00" y="355.80" width="11.50" height="8.00" fill="#d0c850"/>
<ellipse cx="369.8" cy="359.8" rx="2.1" ry="2.6" fill="#fff" fill-opacity="0.9"/>
<ellipse cx="379.4" cy="359.8" rx="2.1" ry="2.6" fill="#fff" fill-opacity="0.9"/>
<circle cx="387.8" cy="359.8" r="4.00" fill="#90c070"/>
<ellipse cx="389.0" cy="359.8" rx="2.1" ry="2.6" fill="#fff" fill-opacity="0.9"/>
<ellipse cx="386.6" cy="359.8" rx="2.1" ry="2.6" fill="#fff" fill-opacity="0.9"/>
<circle cx="395.4" cy="359.8" r="4.00" fill="#6a8a50"/>
<circle cx="397.0" cy="359.8" r="4.00" fill="#6a8a50"/>
<rect x="395.40" y="355.80" width="1.90" height="8.00" fill="#6a8a50"/>
<ellipse cx="396.2" cy="359.8" rx="2.1" ry="2.6" fill="#fff" fill-opacity="0.9"/>
<ellipse cx="396.2" cy="359.8" rx="2.1" ry="2.6" fill="#fff" fill-opacity="0.9"/>
<circle cx="405.0" cy="359.8" r="4.00" fill="#4a6a30"/>
<circle cx="406.7" cy="359.8" r="4.00" fill="#4a6a30"/>
<rect x="405.00" y="355.80" width="2.00" height="8.00" fill="#4a6a30"/>
<ellipse cx="405.8" cy="359.8" rx="2.1" ry="2.6" fill="#fff" fill-opacity="0.9"/>
<ellipse cx="405.9" cy="359.8" rx="2.1" ry="2.6" fill="#fff" fill-opacity="0.9"/>
<circle cx="416.5" cy="359.8" r="4.00" fill="#90c070"/>
<circle cx="417.5" cy="359.8" r="4.00" fill="#90c070"/>
<rect x="416.50" y="355.80" width="1.30" height="8.00" fill="#90c070"/>
<ellipse cx="417.3" cy="359.8" rx="2.1" ry="2.6" fill="#fff" fill-opacity="0.9"/>
<ellipse cx="416.7" cy="359.8" rx="2.1" ry="2.6" fill="#fff" fill-opacity="0.9"/>
<circle cx="425.5" cy="359.8" r="4.00" fill="#6a9a50"/>
<circle cx="425.9" cy="359.8" r="4.00" fill="#6a9a50"/>
<rect x="425.50" y="355.80" width="0.70" height="8.00" fill="#6a9a50"/>
<ellipse cx="426.3" cy="359.8" rx="2.1" ry="2.6" fill="#fff" fill-opacity="0.9"/>
<ellipse cx="425.1" cy="359.8" rx="2.1" ry="2.6" fill="#fff" fill-opacity="0.9"/>
<circle cx="433.9" cy="359.8" r="4.00" fill="#3a5a28"/>
<circle cx="434.9" cy="359.8" r="4.00" fill="#3a5a28"/>
<rect x="433.90" y="355.80" width="1.30" height="8.00" fill="#3a5a28"/>
<ellipse cx="434.7" cy="359.8" rx="2.1" ry="2.6" fill="#fff" fill-opacity="0.9"/>
<ellipse cx="434.1" cy="359.8" rx="2.1" ry="2.6" fill="#fff" fill-opacity="0.9"/>
<circle cx="192.8" cy="383.1" r="3.40" stroke="#c8c040" stroke-width="1.45" fill="none"/>
<circle cx="202.4" cy="383.1" r="3.40" stroke="#c8c040" stroke-width="1.45" fill="none"/>
<circle cx="211.7" cy="383.1" r="3.40" stroke="#c8c040" stroke-width="1.45" fill="none"/>
<circle cx="221.3" cy="383.1" r="3.40" stroke="#c8c040" stroke-width="1.45" fill="none"/>
<circle cx="230.7" cy="383.1" r="3.40" stroke="#e8e0a0" stroke-width="1.45" fill="none"/>
<circle cx="240.3" cy="383.1" r="3.15" stroke="#c8c830" stroke-width="2.30" fill="none"/>
<circle cx="250.3" cy="383.1" r="4.00" fill="#c0c830"/>
<circle cx="272.3" cy="383.1" r="4.00" fill="#a8a878"/>
<rect x="250.30" y="379.14" width="5.90" height="8.00" fill="#c0c830"/>
<rect x="255.90" y="379.14" width="9.90" height="8.00" fill="#d0e870"/>
<rect x="265.50" y="379.14" width="7.10" height="8.00" fill="#a8a878"/>
<rect x="249.8" y="381.4" width="2.4" height="3.4" rx="0.9" fill="#fff" fill-opacity="0.9"/>
<rect x="269.0" y="381.4" width="2.0" height="3.4" rx="0.9" fill="#fff" fill-opacity="0.9"/>
<circle cx="280.0" cy="383.1" r="3.40" stroke="#a8b070" stroke-width="1.45" fill="none"/>
<circle cx="289.2" cy="383.1" r="3.40" stroke="#c8c040" stroke-width="1.45" fill="none"/>
<circle cx="299.0" cy="383.1" r="3.40" stroke="#d8d080" stroke-width="1.45" fill="none"/>
<circle cx="304.5" cy="383.1" r="3.40" stroke="#e8e0a0" stroke-width="1.45" fill="none"/>
<circle cx="309.5" cy="383.1" r="3.40" stroke="#e8e0a0" stroke-width="1.45" fill="none"/>
<circle cx="318.7" cy="383.1" r="4.00" fill="#c0c830"/>
<circle cx="320.3" cy="383.1" r="4.00" fill="#c0c830"/>
<rect x="318.70" y="379.14" width="1.90" height="8.00" fill="#c0c830"/>
<rect x="318.9" y="381.4" width="1.3" height="3.4" rx="0.9" fill="#fff" fill-opacity="0.9"/>
<circle cx="327.9" cy="383.1" r="3.40" stroke="#e0e0a0" stroke-width="1.45" fill="none"/>
<circle cx="336.7" cy="383.1" r="4.00" fill="#a8a878"/>
<circle cx="339.5" cy="383.1" r="4.00" fill="#a8a878"/>
<rect x="336.70" y="379.14" width="3.10" height="8.00" fill="#a8a878"/>
<rect x="337.4" y="381.4" width="1.3" height="3.4" rx="0.9" fill="#fff" fill-opacity="0.9"/>
<circle cx="347.1" cy="383.1" r="3.40" stroke="#c8c040" stroke-width="1.45" fill="none"/>
<circle cx="356.7" cy="383.1" r="3.40" stroke="#c8c040" stroke-width="1.45" fill="none"/>
<circle cx="366.8" cy="383.1" r="3.40" stroke="#c8c040" stroke-width="1.45" fill="none"/>
<circle cx="375.8" cy="383.1" r="3.40" stroke="#c8c040" stroke-width="1.45" fill="none"/>
<circle cx="385.4" cy="383.1" r="3.40" stroke="#c8c040" stroke-width="1.45" fill="none"/>
<circle cx="395.0" cy="383.1" r="3.40" stroke="#e0e090" stroke-width="1.45" fill="none"/>
<circle cx="404.7" cy="383.1" r="3.40" stroke="#c8cce8" stroke-width="1.45" fill="none"/>
<circle cx="414.3" cy="383.1" r="3.40" stroke="#c8cce8" stroke-width="1.45" fill="none"/>
<circle cx="423.9" cy="383.1" r="3.40" stroke="#c8cce8" stroke-width="1.45" fill="none"/>
<circle cx="434.1" cy="383.1" r="3.40" stroke="#c8cce8" stroke-width="1.45" fill="none"/>
<circle cx="194.0" cy="406.5" r="4.00" fill="#a64a30"/>
<circle cx="254.2" cy="406.5" r="4.00" fill="#a64a30"/>
<rect x="194.00" y="402.48" width="60.50" height="8.00" fill="#a64a30"/>
<ellipse cx="194.8" cy="406.5" rx="2.1" ry="2.6" fill="#fff" fill-opacity="0.9"/>
<ellipse cx="204.6" cy="406.5" rx="2.1" ry="2.6" fill="#fff" fill-opacity="0.9"/>
<ellipse cx="214.3" cy="406.5" rx="2.1" ry="2.6" fill="#fff" fill-opacity="0.9"/>
<ellipse cx="224.1" cy="406.5" rx="2.1" ry="2.6" fill="#fff" fill-opacity="0.9"/>
<ellipse cx="233.9" cy="406.5" rx="2.1" ry="2.6" fill="#fff" fill-opacity="0.9"/>
<ellipse cx="243.6" cy="406.5" rx="2.1" ry="2.6" fill="#fff" fill-opacity="0.9"/>
<ellipse cx="253.4" cy="406.5" rx="2.1" ry="2.6" fill="#fff" fill-opacity="0.9"/>
<circle cx="384.7" cy="406.5" r="3.15" stroke="#4a6a30" stroke-width="2.30" fill="none"/>
<circle cx="401.6" cy="406.5" r="3.15" stroke="#4a6a30" stroke-width="2.30" fill="none"/>
<circle cx="423.4" cy="406.5" r="3.40" stroke="#5a8a50" stroke-width="1.45" fill="none"/>
<circle cx="431.0" cy="406.5" r="3.15" stroke="#4a6a30" stroke-width="2.30" fill="none"/>
<circle cx="200.6" cy="429.8" r="3.15" stroke="#c8b830" stroke-width="2.30" fill="none"/>
<circle cx="211.2" cy="429.8" r="4.00" fill="#c8b830"/>
<circle cx="212.3" cy="429.8" r="4.00" fill="#c8b830"/>
<rect x="211.20" y="425.82" width="1.40" height="8.00" fill="#c8b830"/>
<rect x="210.7" y="428.1" width="2.0" height="3.4" rx="0.9" fill="#fff" fill-opacity="0.9"/>
<circle cx="220.1" cy="429.8" r="3.15" stroke="#c8b830" stroke-width="2.30" fill="none"/>
<circle cx="230.2" cy="429.8" r="3.15" stroke="#e8d870" stroke-width="2.30" fill="none"/>
<circle cx="231.2" cy="429.8" r="3.15" stroke="#e8d870" stroke-width="2.30" fill="none"/>
<circle cx="238.0" cy="429.8" r="3.15" stroke="#9a7a40" stroke-width="2.30" fill="none"/>
<circle cx="244.5" cy="429.8" r="3.15" stroke="#a07050" stroke-width="2.30" fill="none"/>
<circle cx="251.5" cy="429.8" r="4.00" fill="#9a7048"/>
<circle cx="253.1" cy="429.8" r="4.00" fill="#9a7048"/>
<rect x="251.50" y="425.82" width="1.90" height="8.00" fill="#9a7048"/>
<rect x="251.5" y="428.1" width="1.3" height="3.4" rx="0.9" fill="#fff" fill-opacity="0.9"/>
<circle cx="262.6" cy="429.8" r="3.15" stroke="#c8c030" stroke-width="2.30" fill="none"/>
<circle cx="267.2" cy="429.8" r="3.15" stroke="#c8c030" stroke-width="2.30" fill="none"/>
<circle cx="276.7" cy="429.8" r="4.00" fill="#a06840"/>
<circle cx="310.7" cy="429.8" r="4.00" fill="#c8b830"/>
<rect x="276.70" y="425.82" width="8.20" height="8.00" fill="#a06840"/>
<rect x="284.60" y="425.82" width="26.40" height="8.00" fill="#c8b830"/>
<rect x="276.0" y="428.1" width="2.0" height="3.4" rx="0.9" fill="#fff" fill-opacity="0.9"/>
<rect x="280.0" y="428.1" width="2.0" height="3.4" rx="0.9" fill="#fff" fill-opacity="0.9"/>
<rect x="289.0" y="428.1" width="2.0" height="3.4" rx="0.9" fill="#fff" fill-opacity="0.9"/>
<rect x="295.4" y="428.1" width="1.3" height="3.4" rx="0.9" fill="#fff" fill-opacity="0.9"/>
<rect x="299.2" y="428.1" width="1.6" height="3.4" rx="0.9" fill="#fff" fill-opacity="0.9"/>
<rect x="304.8" y="428.1" width="2.4" height="3.4" rx="0.9" fill="#fff" fill-opacity="0.9"/>
<rect x="309.8" y="428.1" width="2.4" height="3.4" rx="0.9" fill="#fff" fill-opacity="0.9"/>
<circle cx="321.3" cy="429.8" r="3.15" stroke="#c8b830" stroke-width="2.30" fill="none"/>
<circle cx="325.8" cy="429.8" r="3.15" stroke="#c8b830" stroke-width="2.30" fill="none"/>
<circle cx="330.4" cy="429.8" r="3.15" stroke="#c8b830" stroke-width="2.30" fill="none"/>
<circle cx="334.9" cy="429.8" r="3.15" stroke="#c8b830" stroke-width="2.30" fill="none"/>
<circle cx="339.5" cy="429.8" r="3.15" stroke="#c8b830" stroke-width="2.30" fill="none"/>
<circle cx="344.0" cy="429.8" r="3.15" stroke="#c8b830" stroke-width="2.30" fill="none"/>
<circle cx="352.0" cy="429.8" r="3.15" stroke="#c8c040" stroke-width="2.30" fill="none"/>
<circle cx="360.4" cy="429.8" r="3.15" stroke="#c8c040" stroke-width="2.30" fill="none"/>
<circle cx="368.8" cy="429.8" r="3.15" stroke="#c8c040" stroke-width="2.30" fill="none"/>
<circle cx="377.2" cy="429.8" r="3.15" stroke="#c8c040" stroke-width="2.30" fill="none"/>
<circle cx="385.6" cy="429.8" r="3.15" stroke="#c8c040" stroke-width="2.30" fill="none"/>
<circle cx="394.0" cy="429.8" r="3.15" stroke="#c8c040" stroke-width="2.30" fill="none"/>
<circle cx="402.4" cy="429.8" r="3.15" stroke="#c8c040" stroke-width="2.30" fill="none"/>
<circle cx="193.2" cy="453.2" r="4.00" fill="#c8b430"/>
<circle cx="253.1" cy="453.2" r="4.00" fill="#c8b430"/>
<rect x="193.20" y="449.16" width="60.20" height="8.00" fill="#c8b430"/>
<ellipse cx="194.0" cy="453.2" rx="2.1" ry="2.6" fill="#fff" fill-opacity="0.9"/>
<ellipse cx="203.7" cy="453.2" rx="2.1" ry="2.6" fill="#fff" fill-opacity="0.9"/>
<ellipse cx="213.4" cy="453.2" rx="2.1" ry="2.6" fill="#fff" fill-opacity="0.9"/>
<ellipse cx="223.2" cy="453.2" rx="2.1" ry="2.6" fill="#fff" fill-opacity="0.9"/>
<ellipse cx="232.9" cy="453.2" rx="2.1" ry="2.6" fill="#fff" fill-opacity="0.9"/>
<ellipse cx="242.6" cy="453.2" rx="2.1" ry="2.6" fill="#fff" fill-opacity="0.9"/>
<ellipse cx="252.3" cy="453.2" rx="2.1" ry="2.6" fill="#fff" fill-opacity="0.9"/>
<circle cx="261.1" cy="453.2" r="4.00" fill="#d0e080"/>
<circle cx="262.7" cy="453.2" r="4.00" fill="#d0e080"/>
<rect x="261.10" y="449.16" width="1.90" height="8.00" fill="#d0e080"/>
<ellipse cx="261.9" cy="453.2" rx="2.1" ry="2.6" fill="#fff" fill-opacity="0.9"/>
<ellipse cx="261.9" cy="453.2" rx="2.1" ry="2.6" fill="#fff" fill-opacity="0.9"/>
<circle cx="270.9" cy="453.2" r="3.15" stroke="#b0a070" stroke-width="2.30" fill="none"/>
<circle cx="280.5" cy="453.2" r="3.30" stroke="#7a5030" stroke-width="3.00" fill="none"/>
<circle cx="289.2" cy="453.2" r="4.00" fill="#c8b428"/>
<circle cx="310.7" cy="453.2" r="4.00" fill="#c8b428"/>
<rect x="289.20" y="449.16" width="21.80" height="8.00" fill="#c8b428"/>
<rect x="288.2" y="451.5" width="1.6" height="3.4" rx="0.9" fill="#fff" fill-opacity="0.9"/>
<rect x="295.4" y="451.5" width="1.3" height="3.4" rx="0.9" fill="#fff" fill-opacity="0.9"/>
<rect x="302.0" y="451.5" width="2.0" height="3.4" rx="0.9" fill="#fff" fill-opacity="0.9"/>
<rect x="308.2" y="451.5" width="1.6" height="3.4" rx="0.9" fill="#fff" fill-opacity="0.9"/>
<circle cx="326.0" cy="453.2" r="3.15" stroke="#c8c040" stroke-width="2.30" fill="none"/>
<circle cx="336.0" cy="453.2" r="3.15" stroke="#c8c040" stroke-width="2.30" fill="none"/>
<circle cx="366.0" cy="453.2" r="4.00" fill="#c8b830"/>
<circle cx="397.6" cy="453.2" r="4.00" fill="#c8b830"/>
<rect x="366.00" y="449.16" width="31.90" height="8.00" fill="#c8b830"/>
<ellipse cx="366.8" cy="453.2" rx="2.1" ry="2.6" fill="#fff" fill-opacity="0.9"/>
<ellipse cx="376.8" cy="453.2" rx="2.1" ry="2.6" fill="#fff" fill-opacity="0.9"/>
<ellipse cx="386.8" cy="453.2" rx="2.1" ry="2.6" fill="#fff" fill-opacity="0.9"/>
<ellipse cx="396.8" cy="453.2" rx="2.1" ry="2.6" fill="#fff" fill-opacity="0.9"/>
<circle cx="193.2" cy="476.5" r="4.00" fill="#5a8a4a"/>
<circle cx="259.2" cy="476.5" r="4.00" fill="#e0e090"/>
<rect x="193.20" y="472.50" width="14.80" height="8.00" fill="#5a8a4a"/>
<rect x="207.70" y="472.50" width="40.70" height="8.00" fill="#e8b020"/>
<rect x="248.10" y="472.50" width="7.90" height="8.00" fill="#f0d080"/>
<rect x="255.70" y="472.50" width="3.80" height="8.00" fill="#e0e090"/>
<rect x="192.7" y="474.8" width="1.6" height="3.4" rx="0.9" fill="#fff" fill-opacity="0.9"/>
<rect x="197.3" y="474.8" width="1.3" height="3.4" rx="0.9" fill="#fff" fill-opacity="0.9"/>
<rect x="202.3" y="474.8" width="1.3" height="3.4" rx="0.9" fill="#fff" fill-opacity="0.9"/>
<rect x="250.8" y="474.8" width="2.4" height="3.4" rx="0.9" fill="#fff" fill-opacity="0.9"/>
<rect x="258.9" y="474.8" width="1.3" height="3.4" rx="0.9" fill="#fff" fill-opacity="0.9"/>
<circle cx="278.2" cy="476.5" r="4.00" fill="#f0b42c"/>
<circle cx="321.0" cy="476.5" r="4.00" fill="#f0b42c"/>
<rect x="278.20" y="472.50" width="43.10" height="8.00" fill="#f0b42c"/>
<ellipse cx="279.0" cy="476.5" rx="2.1" ry="2.6" fill="#fff" fill-opacity="0.9"/>
<ellipse cx="289.3" cy="476.5" rx="2.1" ry="2.6" fill="#fff" fill-opacity="0.9"/>
<ellipse cx="299.6" cy="476.5" rx="2.1" ry="2.6" fill="#fff" fill-opacity="0.9"/>
<ellipse cx="309.9" cy="476.5" rx="2.1" ry="2.6" fill="#fff" fill-opacity="0.9"/>
<ellipse cx="320.2" cy="476.5" rx="2.1" ry="2.6" fill="#fff" fill-opacity="0.9"/>
<circle cx="324.0" cy="476.5" r="4.00" fill="#e8b020"/>
<circle cx="348.0" cy="476.5" r="4.00" fill="#e8b020"/>
<rect x="324.00" y="472.50" width="24.30" height="8.00" fill="#e8b020"/>
<rect x="330.0" y="474.8" width="2.0" height="3.4" rx="0.9" fill="#fff" fill-opacity="0.9"/>
<rect x="342.4" y="474.8" width="1.3" height="3.4" rx="0.9" fill="#fff" fill-opacity="0.9"/>
<circle cx="362.7" cy="476.5" r="4.00" fill="#f0b42c"/>
<circle cx="396.7" cy="476.5" r="4.00" fill="#f0b42c"/>
<rect x="362.70" y="472.50" width="34.30" height="8.00" fill="#f0b42c"/>
<ellipse cx="363.5" cy="476.5" rx="2.1" ry="2.6" fill="#fff" fill-opacity="0.9"/>
<ellipse cx="374.3" cy="476.5" rx="2.1" ry="2.6" fill="#fff" fill-opacity="0.9"/>
<ellipse cx="385.1" cy="476.5" rx="2.1" ry="2.6" fill="#fff" fill-opacity="0.9"/>
<ellipse cx="395.9" cy="476.5" rx="2.1" ry="2.6" fill="#fff" fill-opacity="0.9"/>
<circle cx="193.2" cy="499.8" r="4.00" fill="#b8d8ee"/>
<circle cx="365.6" cy="499.8" r="4.00" fill="#b8d8ee"/>
<rect x="193.20" y="495.84" width="172.70" height="8.00" fill="#b8d8ee"/>
<ellipse cx="194.0" cy="499.8" rx="2.1" ry="2.6" fill="#fff" fill-opacity="0.9"/>
<ellipse cx="203.5" cy="499.8" rx="2.1" ry="2.6" fill="#fff" fill-opacity="0.9"/>
<ellipse cx="213.0" cy="499.8" rx="2.1" ry="2.6" fill="#fff" fill-opacity="0.9"/>
<ellipse cx="222.5" cy="499.8" rx="2.1" ry="2.6" fill="#fff" fill-opacity="0.9"/>
<ellipse cx="232.0" cy="499.8" rx="2.1" ry="2.6" fill="#fff" fill-opacity="0.9"/>
<ellipse cx="241.4" cy="499.8" rx="2.1" ry="2.6" fill="#fff" fill-opacity="0.9"/>
<ellipse cx="250.9" cy="499.8" rx="2.1" ry="2.6" fill="#fff" fill-opacity="0.9"/>
<ellipse cx="260.4" cy="499.8" rx="2.1" ry="2.6" fill="#fff" fill-opacity="0.9"/>
<ellipse cx="269.9" cy="499.8" rx="2.1" ry="2.6" fill="#fff" fill-opacity="0.9"/>
<ellipse cx="279.4" cy="499.8" rx="2.1" ry="2.6" fill="#fff" fill-opacity="0.9"/>
<ellipse cx="288.9" cy="499.8" rx="2.1" ry="2.6" fill="#fff" fill-opacity="0.9"/>
<ellipse cx="298.4" cy="499.8" rx="2.1" ry="2.6" fill="#fff" fill-opacity="0.9"/>
<ellipse cx="307.9" cy="499.8" rx="2.1" ry="2.6" fill="#fff" fill-opacity="0.9"/>
<ellipse cx="317.4" cy="499.8" rx="2.1" ry="2.6" fill="#fff" fill-opacity="0.9"/>
<ellipse cx="326.8" cy="499.8" rx="2.1" ry="2.6" fill="#fff" fill-opacity="0.9"/>
<ellipse cx="336.3" cy="499.8" rx="2.1" ry="2.6" fill="#fff" fill-opacity="0.9"/>
<ellipse cx="345.8" cy="499.8" rx="2.1" ry="2.6" fill="#fff" fill-opacity="0.9"/>
<ellipse cx="355.3" cy="499.8" rx="2.1" ry="2.6" fill="#fff" fill-opacity="0.9"/>
<ellipse cx="364.8" cy="499.8" rx="2.1" ry="2.6" fill="#fff" fill-opacity="0.9"/>
<circle cx="375.5" cy="499.8" r="3.15" stroke="#b8d8ee" stroke-width="2.30" fill="none"/>
<circle cx="384.7" cy="499.8" r="3.30" stroke="#b8d8ee" stroke-width="3.00" fill="none"/>
<circle cx="395.3" cy="499.8" r="3.15" stroke="#b8d8ee" stroke-width="2.30" fill="none"/>
<circle cx="193.2" cy="523.2" r="4.00" fill="#b06030"/>
<circle cx="227.3" cy="523.2" r="4.00" fill="#e8b020"/>
<rect x="193.20" y="519.18" width="3.10" height="8.00" fill="#b06030"/>
<rect x="196.00" y="519.18" width="31.60" height="8.00" fill="#e8b020"/>
<circle cx="236.3" cy="523.2" r="3.15" stroke="#f0c860" stroke-width="2.30" fill="none"/>
<circle cx="242.2" cy="523.2" r="3.15" stroke="#f0c860" stroke-width="2.30" fill="none"/>
<circle cx="248.0" cy="523.2" r="3.15" stroke="#f0c860" stroke-width="2.30" fill="none"/>
<circle cx="257.4" cy="523.2" r="3.15" stroke="#f0d8a0" stroke-width="2.30" fill="none"/>
<circle cx="266.6" cy="523.2" r="3.15" stroke="#e6e08c" stroke-width="2.30" fill="none"/>
<circle cx="270.8" cy="523.2" r="3.15" stroke="#a09060" stroke-width="2.30" fill="none"/>
<circle cx="282.6" cy="523.2" r="3.15" stroke="#3a8a50" stroke-width="2.30" fill="none"/>
<circle cx="286.0" cy="523.2" r="3.15" stroke="#3a8a50" stroke-width="2.30" fill="none"/>
<circle cx="294.4" cy="523.2" r="3.15" stroke="#3a6a30" stroke-width="2.30" fill="none"/>
<circle cx="304.5" cy="523.2" r="3.15" stroke="#8a6a40" stroke-width="2.30" fill="none"/>
<circle cx="314.6" cy="523.2" r="3.30" stroke="#f0b42c" stroke-width="3.00" fill="none"/>
<circle cx="334.9" cy="523.2" r="4.00" fill="#dab030"/>
<circle cx="371.5" cy="523.2" r="4.00" fill="#dab030"/>
<rect x="334.90" y="519.18" width="36.90" height="8.00" fill="#dab030"/>
<ellipse cx="335.7" cy="523.2" rx="2.1" ry="2.6" fill="#fff" fill-opacity="0.9"/>
<ellipse cx="344.4" cy="523.2" rx="2.1" ry="2.6" fill="#fff" fill-opacity="0.9"/>
<ellipse cx="353.2" cy="523.2" rx="2.1" ry="2.6" fill="#fff" fill-opacity="0.9"/>
<ellipse cx="361.9" cy="523.2" rx="2.1" ry="2.6" fill="#fff" fill-opacity="0.9"/>
<ellipse cx="370.7" cy="523.2" rx="2.1" ry="2.6" fill="#fff" fill-opacity="0.9"/>
<circle cx="379.7" cy="523.2" r="3.15" stroke="#f0d8a0" stroke-width="2.30" fill="none"/>
<circle cx="388.7" cy="523.2" r="4.00" fill="#6aa050"/>
<circle cx="390.8" cy="523.2" r="4.00" fill="#6aa050"/>
<rect x="388.70" y="519.18" width="2.40" height="8.00" fill="#6aa050"/>
<rect x="388.7" y="521.5" width="1.6" height="3.4" rx="0.9" fill="#fff" fill-opacity="0.9"/>
<circle cx="192.6" cy="546.5" r="3.40" stroke="#7a4a30" stroke-width="1.45" fill="none"/>
<circle cx="201.6" cy="546.5" r="4.00" fill="#d97a50"/>
<circle cx="216.3" cy="546.5" r="4.00" fill="#d97a50"/>
<rect x="201.60" y="542.52" width="15.00" height="8.00" fill="#d97a50"/>
<rect x="202.2" y="544.8" width="1.6" height="3.4" rx="0.9" fill="#fff" fill-opacity="0.9"/>
<rect x="208.8" y="544.8" width="2.4" height="3.4" rx="0.9" fill="#fff" fill-opacity="0.9"/>
<rect x="213.0" y="544.8" width="2.0" height="3.4" rx="0.9" fill="#fff" fill-opacity="0.9"/>
<circle cx="226.0" cy="546.5" r="3.15" stroke="#b06040" stroke-width="2.30" fill="none"/>
<circle cx="230.0" cy="546.5" r="3.15" stroke="#b06040" stroke-width="2.30" fill="none"/>
<circle cx="239.5" cy="546.5" r="4.00" fill="#c8c040"/>
<circle cx="268.5" cy="546.5" r="4.00" fill="#c8c040"/>
<rect x="239.50" y="542.52" width="29.30" height="8.00" fill="#c8c040"/>
<ellipse cx="240.3" cy="546.5" rx="2.1" ry="2.6" fill="#fff" fill-opacity="0.9"/>
<ellipse cx="249.4" cy="546.5" rx="2.1" ry="2.6" fill="#fff" fill-opacity="0.9"/>
<ellipse cx="258.6" cy="546.5" rx="2.1" ry="2.6" fill="#fff" fill-opacity="0.9"/>
<ellipse cx="267.7" cy="546.5" rx="2.1" ry="2.6" fill="#fff" fill-opacity="0.9"/>
<circle cx="277.5" cy="546.5" r="3.15" stroke="#902a20" stroke-width="2.30" fill="none"/>
<circle cx="283.2" cy="546.5" r="4.00" fill="#d97a50"/>
<circle cx="315.6" cy="546.5" r="4.00" fill="#d97a50"/>
<rect x="283.20" y="542.52" width="32.70" height="8.00" fill="#d97a50"/>
<rect x="282.2" y="544.8" width="1.6" height="3.4" rx="0.9" fill="#fff" fill-opacity="0.9"/>
<rect x="289.4" y="544.8" width="1.3" height="3.4" rx="0.9" fill="#fff" fill-opacity="0.9"/>
<rect x="301.8" y="544.8" width="2.4" height="3.4" rx="0.9" fill="#fff" fill-opacity="0.9"/>
<rect x="308.4" y="544.8" width="1.3" height="3.4" rx="0.9" fill="#fff" fill-opacity="0.9"/>
<rect x="314.2" y="544.8" width="1.6" height="3.4" rx="0.9" fill="#fff" fill-opacity="0.9"/>
<circle cx="323.6" cy="546.5" r="4.00" fill="#c8b830"/>
<circle cx="345.4" cy="546.5" r="4.00" fill="#c8b830"/>
<rect x="323.60" y="542.52" width="22.10" height="8.00" fill="#c8b830"/>
<ellipse cx="324.4" cy="546.5" rx="2.1" ry="2.6" fill="#fff" fill-opacity="0.9"/>
<ellipse cx="334.5" cy="546.5" rx="2.1" ry="2.6" fill="#fff" fill-opacity="0.9"/>
<ellipse cx="344.6" cy="546.5" rx="2.1" ry="2.6" fill="#fff" fill-opacity="0.9"/>
<circle cx="357.8" cy="546.5" r="3.15" stroke="#c8c040" stroke-width="2.30" fill="none"/>
<circle cx="192.6" cy="569.9" r="3.40" stroke="#7a4a30" stroke-width="1.45" fill="none"/>
<circle cx="201.6" cy="569.9" r="4.00" fill="#d97a50"/>
<circle cx="231.5" cy="569.9" r="4.00" fill="#d97a50"/>
<rect x="201.60" y="565.86" width="30.20" height="8.00" fill="#d97a50"/>
<rect x="202.2" y="568.2" width="1.6" height="3.4" rx="0.9" fill="#fff" fill-opacity="0.9"/>
<rect x="211.0" y="568.2" width="2.0" height="3.4" rx="0.9" fill="#fff" fill-opacity="0.9"/>
<rect x="220.0" y="568.2" width="2.0" height="3.4" rx="0.9" fill="#fff" fill-opacity="0.9"/>
<rect x="228.2" y="568.2" width="1.6" height="3.4" rx="0.9" fill="#fff" fill-opacity="0.9"/>
<circle cx="239.7" cy="569.9" r="3.30" stroke="#7a4a30" stroke-width="3.00" fill="none"/>
<circle cx="253.1" cy="569.9" r="3.30" stroke="#7a4a30" stroke-width="3.00" fill="none"/>
<circle cx="259.7" cy="569.9" r="4.00" fill="#b85040"/>
<circle cx="288.7" cy="569.9" r="4.00" fill="#b85040"/>
<rect x="259.70" y="565.86" width="29.30" height="8.00" fill="#b85040"/>
<ellipse cx="260.5" cy="569.9" rx="2.1" ry="2.6" fill="#fff" fill-opacity="0.9"/>
<ellipse cx="269.6" cy="569.9" rx="2.1" ry="2.6" fill="#fff" fill-opacity="0.9"/>
<ellipse cx="278.8" cy="569.9" rx="2.1" ry="2.6" fill="#fff" fill-opacity="0.9"/>
<ellipse cx="287.9" cy="569.9" rx="2.1" ry="2.6" fill="#fff" fill-opacity="0.9"/>
<circle cx="299.5" cy="569.9" r="3.15" stroke="#e0a080" stroke-width="2.30" fill="none"/>
<circle cx="304.0" cy="569.9" r="3.15" stroke="#e0a080" stroke-width="2.30" fill="none"/>
<circle cx="308.6" cy="569.9" r="3.15" stroke="#e0a080" stroke-width="2.30" fill="none"/>
<circle cx="317.0" cy="569.9" r="3.15" stroke="#a06040" stroke-width="2.30" fill="none"/>
<circle cx="323.9" cy="569.9" r="3.15" stroke="#c8b830" stroke-width="2.30" fill="none"/>
<circle cx="330.7" cy="569.9" r="3.15" stroke="#c8b830" stroke-width="2.30" fill="none"/>
<circle cx="339.0" cy="569.9" r="4.00" fill="#c8b830"/>
<circle cx="343.0" cy="569.9" r="4.00" fill="#c8b830"/>
<rect x="339.00" y="565.86" width="4.30" height="8.00" fill="#c8b830"/>
<circle cx="349.5" cy="569.9" r="3.15" stroke="#c8b830" stroke-width="2.30" fill="none"/>
</g>
<line x1="446" y1="114.5" x2="446" y2="580" stroke="#9a9a9a" stroke-width="1.2" stroke-dasharray="1.5 3.0"/>
<text x="447.6" y="576" class="lg" style="fill:#7a7a7a;letter-spacing:0.55px">Past/Future - date of snapshot</text>
<g class="mo">
<text x="192.0" y="602" text-anchor="middle">Sep</text>
<text x="233.7" y="602" text-anchor="middle">Oct</text>
<text x="276.8" y="602" text-anchor="middle">Nov</text>
<text x="317.5" y="602" text-anchor="middle">Dec</text>
<text x="360.4" y="602" text-anchor="middle">Jan</text>
<text x="403.0" y="602" text-anchor="middle">Feb</text>
<text x="441.4" y="602" text-anchor="middle">Mar</text>
<text x="484.0" y="602" text-anchor="middle">Apr</text>
<text x="526.0" y="602" text-anchor="middle">May</text>
<text x="568.0" y="602" text-anchor="middle">Jun</text>
<text x="610.0" y="602" text-anchor="middle">Jul</text>
<text x="652.4" y="602" text-anchor="middle">Aug</text>
<text x="695.0" y="602" text-anchor="middle">Sep</text>
<text x="736.0" y="602" text-anchor="middle">Oct</text>
</g>
<text x="464" y="625" class="hd" text-anchor="middle" style="letter-spacing:0.35px">Shift Start Date</text>
<text x="531.3" y="379" class="hd">Shift to Payment Approval Lead Time</text>
<rect x="528" y="382.3" width="16" height="18" fill="#ecfafc"/>
<rect x="534" y="386.3" width="10.2" height="9.8" fill="#3f7a3a"/>
<text x="549.9" y="396.1" class="lg">a. Payment Approved 0-7 days</text>
<rect x="528" y="400.9" width="16" height="18" fill="#ecfafc"/>
<rect x="534" y="404.9" width="10.2" height="9.8" fill="#5f9a5e"/>
<text x="549.9" y="414.7" class="lg">b. Payment Approved 8-14 days</text>
<rect x="528" y="419.5" width="16" height="18" fill="#ecfafc"/>
<rect x="534" y="423.5" width="10.2" height="9.8" fill="#8fc07a"/>
<text x="549.9" y="433.3" class="lg">c. Payment Approved 15-21 days</text>
<rect x="528" y="438.1" width="16" height="18" fill="#fdf0fb"/>
<rect x="534" y="442.1" width="10.2" height="9.8" fill="#e8e05a"/>
<text x="549.9" y="451.9" class="lg">d. Payment Approved 22-28 days</text>
<rect x="528" y="456.7" width="16" height="18" fill="#fdf0fb"/>
<rect x="534" y="460.7" width="10.2" height="9.8" fill="#d0c020"/>
<text x="549.9" y="470.5" class="lg">e. Payment Approved 1-2 months</text>
<rect x="528" y="475.3" width="16" height="18" fill="#fdf0fb"/>
<rect x="534" y="479.3" width="10.2" height="9.8" fill="#d87a48"/>
<text x="549.9" y="489.1" class="lg">f. Payment Approved 2-3 months</text>
<rect x="528" y="493.9" width="16" height="18" fill="#fdf0fb"/>
<rect x="534" y="497.9" width="10.2" height="9.8" fill="#99492c"/>
<text x="549.9" y="507.7" class="lg">g. Payment Approved 3-6 months</text>
<rect x="528" y="512.5" width="16" height="18" fill="#ecfafc"/>
<rect x="534" y="516.5" width="10.2" height="9.8" fill="#c0d0ea"/>
<text x="549.9" y="526.3" class="lg">i. Not yet Paid/Not yet Worked</text>
</svg>
</body></html>
